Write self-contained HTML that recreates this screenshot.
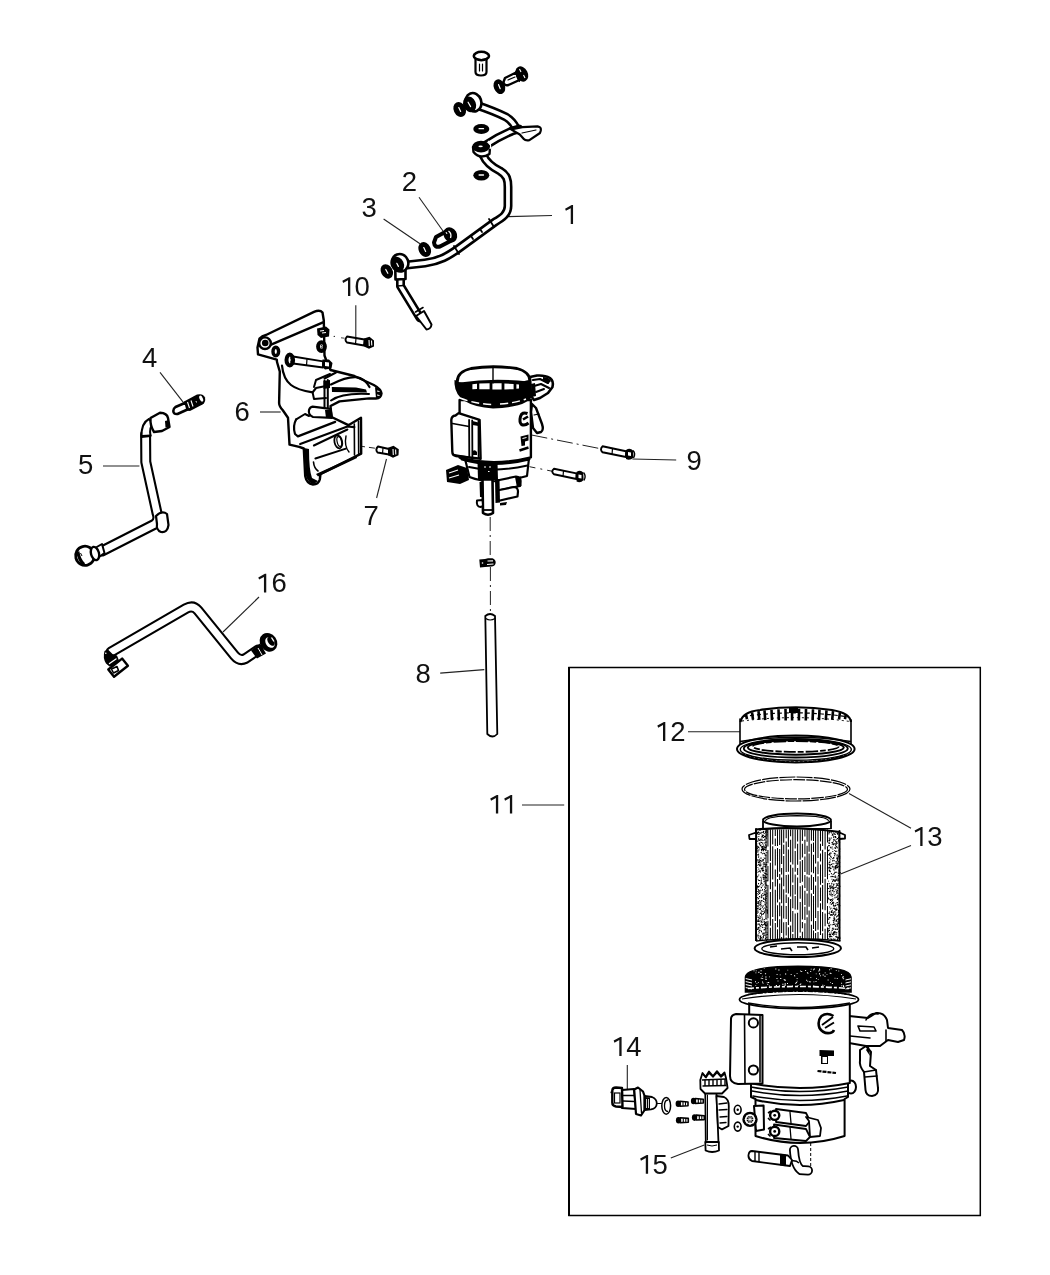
<!DOCTYPE html>
<html><head><meta charset="utf-8"><style>
html,body{margin:0;padding:0;background:#fff;width:1050px;height:1275px;overflow:hidden}
svg{display:block;filter:grayscale(1)}
text{font-family:"Liberation Sans",sans-serif;font-size:27.5px;fill:#111}
.k{fill:none;stroke:#000;stroke-width:2;stroke-linejoin:round;stroke-linecap:round}
.kf{fill:#fff;stroke:#000;stroke-width:2;stroke-linejoin:round;stroke-linecap:round}
.k1{fill:none;stroke:#000;stroke-width:1.2;stroke-linejoin:round;stroke-linecap:round}
.k3{fill:none;stroke:#000;stroke-width:3;stroke-linejoin:round;stroke-linecap:round}
.tb{fill:none;stroke:#000;stroke-width:9;stroke-linejoin:round;stroke-linecap:round}
.tw{fill:none;stroke:#fff;stroke-width:3.8;stroke-linejoin:round;stroke-linecap:round}
.ld{fill:none;stroke:#222;stroke-width:1.1}
.dd{fill:none;stroke:#222;stroke-width:1;stroke-dasharray:14 4 2 4}
.bk{fill:#000}
</style></head><body>
<svg width="1050" height="1275" viewBox="0 0 1050 1275">
<rect x="0" y="0" width="1050" height="1275" fill="#fff"/>

<!-- ===== LABELS ===== -->
<g text-anchor="middle">
<text x="409.5" y="191.3">2</text>
<text x="369.2" y="217.3">3</text>
<text x="149.65" y="366.7">4</text>
<text x="85.7" y="474">5</text>
<text x="242.2" y="420.7">6</text>
<text x="371.1" y="524.8">7</text>
<text x="423.05" y="683.1">8</text>
<text x="694.15" y="469.6">9</text>
<text x="362.2" y="296.3">0</text>
<text x="678" y="740.9">2</text>
<text x="934.8" y="845.9">3</text>
<text x="634" y="1055.9">4</text>
<text x="660.15" y="1173.8">5</text>
<text x="279.25" y="592.4">6</text>
</g>
<path fill="#111" d="M573.05,205.10 L573.05,224.10 L570.75,224.10 L570.75,208.20 L565.90,210.80 L565.10,208.70 L571.70,205.10 Z M350.30,277.20 L350.30,295.90 L348.00,295.90 L348.00,280.30 L343.15,282.90 L342.35,280.80 L348.95,277.20 Z M498.20,795.00 L498.20,813.60 L495.90,813.60 L495.90,798.10 L491.05,800.70 L490.25,798.60 L496.85,795.00 Z M512.20,795.00 L512.20,813.60 L509.90,813.60 L509.90,798.10 L505.05,800.70 L504.25,798.60 L510.85,795.00 Z M665.30,722.00 L665.30,740.90 L663.00,740.90 L663.00,725.10 L658.15,727.70 L657.35,725.60 L663.95,722.00 Z M922.55,826.90 L922.55,845.90 L920.25,845.90 L920.25,830.00 L915.40,832.60 L914.60,830.50 L921.20,826.90 Z M621.60,1037.00 L621.60,1055.90 L619.30,1055.90 L619.30,1040.10 L614.45,1042.70 L613.65,1040.60 L620.25,1037.00 Z M648.10,1155.00 L648.10,1173.80 L645.80,1173.80 L645.80,1158.10 L640.95,1160.70 L640.15,1158.60 L646.75,1155.00 Z M266.25,573.80 L266.25,592.40 L263.95,592.40 L263.95,576.90 L259.10,579.50 L258.30,577.40 L264.90,573.80 Z"/>

<!-- ===== LEADERS ===== -->
<g class="ld">
<path d="M507,216.6 L552,215.5"/>
<path d="M419,197.3 L443,231"/>
<path d="M383.6,219 L420,243.8"/>
<path d="M160,372.4 L183.5,402.7"/>
<path d="M103,466 L139.4,466"/>
<path d="M260,412 L280.7,412"/>
<path d="M386.5,459 L376.6,498"/>
<path d="M440.2,673.1 L484.3,669.6"/>
<path d="M632.4,459 L676.2,460"/>
<path d="M355.8,305.3 L355.8,337"/>
<path d="M522,805 L564.2,805"/>
<path d="M688,731.7 L740,731.7"/>
<path d="M911,828.3 L849,793.6"/>
<path d="M911,845.6 L840.6,873.9"/>
<path d="M627.3,1065 L627.3,1090.2"/>
<path d="M670.8,1158 L704.3,1145"/>
<path d="M259,597 L223,632"/>
</g>

<!-- ===== BOX 11 ===== -->
<path d="M569,667.5 L980.3,667.5 L980.3,1215.5 L569,1215.5 Z" fill="none" stroke="#000" stroke-width="1.5"/>
<path d="M569,667 L569,1216" stroke="#000" stroke-width="2"/>

<!-- PARTS_START -->
<!-- ===== PART 1 (upper tube) ===== -->
<g id="p1">
<!-- top bolt -->
<path class="kf" d="M475.5,59 L475.5,72 Q475.5,75.5 481,75.5 Q486.5,75.5 486.5,72 L486.5,59 Z" style="stroke-width:2.2"/>
<path class="k1" d="M479.5,64 L479.5,71 M482.5,64 L482.5,71"/>
<ellipse cx="481.4" cy="56" rx="7.6" ry="4.2" fill="#fff" stroke="#000" stroke-width="2.6"/>
<path class="k1" d="M474.5,57.5 Q481,61.5 488.3,57.5"/>
<!-- angled bolt -->
<path class="kf" d="M505,78 L516,72.5 L519.5,80 L508.5,85 Q504,86 503.5,82 Z" style="stroke-width:2.4"/>
<path class="k1" d="M508,80 L515,77"/>
<ellipse cx="521.8" cy="74" rx="6" ry="8" transform="rotate(-28 521.8 74)" fill="#000"/>
<path d="M519.5,69 L521,72 M523.5,75 L525,78" stroke="#fff" stroke-width="1.1"/>
<path d="M516,71 Q517,80 520,81.5" fill="none" stroke="#000" stroke-width="1.5"/>
<!-- washer near angled bolt -->
<ellipse cx="499.4" cy="86.7" rx="5.6" ry="7.6" transform="rotate(-22 499.4 86.7)" fill="#000"/>
<path d="M498.58,84.66 L500.22,88.74" stroke="#fff" stroke-width="1.2" stroke-linecap="round"/>
<!-- tube A from banjo1 -->
<path class="tb" d="M476,105 C485,108 498,113 506,117 C511,120 514,124 516,128"/>
<path class="tw" d="M476,105 C485,108 498,113 506,117 C511,120 514,124 516,128"/>
<!-- tube B to banjo2 -->
<path class="tb" d="M486,145 C495,139 505,134 512,131 L519,129"/>
<path class="tw" d="M486,145 C495,139 505,134 512,131 L519,129"/>
<!-- tab -->
<path class="kf" d="M511,129.4 L522.4,127.2 L537.6,126.3 Q541.5,127 540.8,130.5 L540,133 L529.4,140.2 Q525.5,141 523.8,139 L519.8,134.5 Z" style="stroke-width:2.2"/>
<path class="k1" d="M522,133 L536,130"/>
<!-- tube C down from banjo2 -->
<path class="tb" d="M483,155 C486,162 492,167 500,171 C507,175 508,180 508,187 L508,206 C508,214 502,218 495,222 L458,249 C448,256 440,261 425,263 L407,265"/>
<path class="tw" d="M483,155 C486,162 492,167 500,171 C507,175 508,180 508,187 L508,206 C508,214 502,218 495,222 L458,249 C448,256 440,261 425,263 L407,265"/>
<!-- band markers on tube -->
<path class="k" d="M489,219 L494,227 M454,246 L459,254 M471,236 L473,239 M480,229 L482,232" style="stroke-width:1.8"/>
<!-- washers near banjo1 -->
<ellipse cx="459.7" cy="109.5" rx="6.0" ry="7.8" transform="rotate(-25 459.7 109.5)" fill="#000"/>
<path d="M458.77,107.51 L460.63,111.49" stroke="#fff" stroke-width="1.2" stroke-linecap="round"/>
<!-- banjo1 -->
<ellipse cx="473.5" cy="102.2" rx="7.8" ry="9.3" transform="rotate(-20 473.5 102.2)" fill="#fff" stroke="#000" stroke-width="2.6"/>
<ellipse cx="469.6" cy="104.3" rx="6.3" ry="8.1" transform="rotate(-22 469.6 104.3)" fill="#000"/>
<path d="M468.1,102.2 L470.6,106.6" stroke="#fff" stroke-width="1.2" stroke-linecap="round"/>
<!-- washer mid -->
<ellipse cx="481.3" cy="129" rx="8" ry="5" fill="#000"/>
<path d="M479.1,128.7 L483.5,128.7" stroke="#fff" stroke-width="1.3" stroke-linecap="round"/>
<!-- banjo2 -->
<path class="kf" d="M473,147 L473.5,152 Q480,160 489.5,154 L490,147 Z" style="stroke-width:2.4"/>
<ellipse cx="481" cy="146.6" rx="8.8" ry="5.8" fill="#000"/>
<ellipse cx="480.6" cy="146.3" rx="2.2" ry="0.9" fill="#fff"/>
<path d="M488,141 Q492,144 490,149" fill="none" stroke="#fff" stroke-width="1.2"/>
<!-- washer bottom -->
<ellipse cx="481.3" cy="175.3" rx="8" ry="5.2" fill="#000"/>
<path d="M479.1,175.0 L483.5,175.0" stroke="#fff" stroke-width="1.3" stroke-linecap="round"/>
<!-- bolt 2 -->
<path class="kf" d="M436,237 L447,231 L451.5,240.5 L440,246.5 Q434.5,248 434,242.5 Z" style="stroke-width:4"/>
<path class="k1" d="M439,241 L446,237.5" style="stroke:#fff;stroke-width:1.6"/>
<ellipse cx="450.3" cy="234.8" rx="6.6" ry="7.9" transform="rotate(-30 450.3 234.8)" fill="#000"/>
<path d="M448.5,231 Q452,233.5 450.5,238" fill="none" stroke="#fff" stroke-width="1.3"/>
<path d="M446,232 L447,234" stroke="#fff" stroke-width="1"/>
<!-- washer 3 -->
<ellipse cx="424.7" cy="249.5" rx="6.0" ry="7.8" transform="rotate(-25 424.7 249.5)" fill="#000"/>
<path d="M423.77,247.51 L425.63,251.49" stroke="#fff" stroke-width="1.2" stroke-linecap="round"/>
<!-- washer left of banjo3 -->
<ellipse cx="386.8" cy="271.4" rx="5.8" ry="7.6" transform="rotate(-28 386.8 271.4)" fill="#000"/>
<path d="M385.77,269.46 L387.83,273.34" stroke="#fff" stroke-width="1.2" stroke-linecap="round"/>
<!-- lower tube from banjo3 -->
<path class="tb" d="M400.5,272 L400.5,286 L420,318"/>
<path class="tw" d="M400.5,272 L400.5,286 L420,318"/>
<path class="kf" d="M416,316 L424,311 L431.5,324.5 Q431,329 426.5,329.5 L416,316" style="stroke-width:2"/>
<path class="k" d="M397,286 L404,285.5" style="stroke-width:1.6"/>
<path class="k" d="M415.5,312 L423,307.5" style="stroke-width:1.6"/>
<!-- banjo3 -->
<path class="kf" d="M395.3,270 L405.5,270 L405.5,279 L395.5,279.5 Z" style="stroke-width:2.6"/>
<ellipse cx="400" cy="262.8" rx="8.3" ry="8.8" transform="rotate(-20 400 262.8)" fill="#fff" stroke="#000" stroke-width="2.6"/>
<ellipse cx="397.6" cy="264.3" rx="6.2" ry="7.9" transform="rotate(-25 397.6 264.3)" fill="#000"/>
<path d="M396.8,263.3 L398.4,266.4" stroke="#fff" stroke-width="1.2" stroke-linecap="round"/>
</g>
<!-- ===== PART 6 bracket ===== -->
<g id="p6">
<path class="kf" d="M257.5,347.5 L259.5,338.5 Q262,336 266,335 L314,311.8 Q320,309.5 322.5,312.5 L323.8,320.5 L324.5,355.5 L327,362.5 L330.5,370 L354.4,376 L373.8,385 Q381,389 381.5,393.5 Q381,398.5 376,398.5 L369.3,398.4 L339.5,401.4 L330.5,406 L331.5,417 L348.4,425.2 L361,417.8 L361.2,453.6 L320.5,474 L319.8,479.5 Q318.5,484.5 313,484.5 Q306.5,483.5 305.2,476 L303.8,448.5 L299.2,446.9 L289.5,444.6 L288,417.8 L282.8,410.3 Q279.1,406 279.1,402.9 L279.8,371.6 L277,362 L276.8,359.6 L258,354.4 Z" style="stroke-width:2.4"/>
<!-- cylinder -->
<path class="k" d="M270.5,344.8 L323,322.4" style="stroke-width:2.4"/>
<circle cx="265" cy="343.2" r="5.8" fill="#fff" stroke="#000" stroke-width="2.4"/>
<circle cx="265.2" cy="343" r="3.3" fill="#000"/>
<!-- neck curves -->
<path class="k" d="M282,365.6 C283,376 286,381 291,385 C296,389 304,391 312.6,392.4 L316,388 L326,386" style="stroke-width:2.2"/>
<path class="k" d="M312.6,392.4 L314,399 L326,398" style="stroke-width:2"/>
<path class="k" d="M314,387 L316,380 L330,374" style="stroke-width:2"/>
<path class="k" d="M331,384.5 C340,380 349,376.8 356,377.2 C362,378 366.5,381.5 369.5,387" style="stroke-width:2.2"/>
<path class="k" d="M331,400.5 C338,395.5 350,393 369,394" style="stroke-width:2"/>
<path class="k" d="M324.5,378.5 L336,372.5" style="stroke-width:2"/>
<path d="M331.8,387 L356,387.5 L366,389.5 L367,392.5 L332,392 Z" fill="#000"/>
<path class="k" d="M324.5,380.5 L324.5,407.4 M327.8,380 L327.8,407.4" style="stroke-width:2"/>
<path d="M323.5,381 L330,380 L330,388 L323.5,389 Z" fill="#000"/>
<!-- block -->
<path class="kf" d="M312.6,406.6 L330.5,408.8 L332,417.8 L313,417 Q308,415 309,410 Q310,407 312.6,406.6 Z" style="stroke-width:2.2"/>
<path d="M325,410 L331,409.5 L332,417.5 L326,418 Z" fill="#000"/>
<!-- pocket and lower box -->
<path class="k" d="M296.2,419.3 Q292.5,426 295,434 L297.9,436.4 L335.2,421.9" style="stroke-width:2.2"/>
<path class="k" d="M296.2,419.3 L305,414 L309,416" style="stroke-width:2"/>
<path class="k" d="M300.2,444 L347.4,426.5 L354.3,427.2" style="stroke-width:2.2"/>
<path class="k" d="M313.9,445.5 L347.4,429.5 M315.4,458.5 L345.9,448.6" style="stroke-width:2"/>
<path class="k" d="M354.3,424 L354.5,455 M358.5,421 L358.7,454" style="stroke-width:1.6"/>
<path d="M304,448 L306,476 Q308,483 314,484 L318,481 L312,478 Q309,470 309,449 Z" fill="#000"/>
<path class="k" d="M313.5,462 Q314,468 318,471" style="stroke-width:1.6"/>
<path d="M316,474 L356.6,455.4 L357,458 L318,476.5 Z" fill="#000"/>
<ellipse cx="338.3" cy="441.8" rx="3.8" ry="6.6" transform="rotate(-12 338.3 441.8)" class="k" style="stroke-width:1.8"/>
<ellipse cx="339.3" cy="441.5" rx="2.2" ry="5" transform="rotate(-12 339.3 441.5)" class="k" style="stroke-width:1.2"/>
<path class="k" d="M346,436 Q344,446 349,452" style="stroke-width:1.4"/>
<!-- nuts -->
<path d="M317,328.5 L326,326.5 L329.5,329.5 L329,336.5 L321,338 L317.5,335 Z" fill="#000"/>
<path d="M320,331 L324,330.5 M322,333 L326,332.5" stroke="#fff" stroke-width="1.2"/>
<ellipse cx="321.5" cy="346.6" rx="3.4" ry="4.4" fill="#fff" stroke="#000" stroke-width="4"/>
<path d="M321,344.5 Q323,346.5 321.5,348.5" fill="none" stroke="#000" stroke-width="0.9"/>
<ellipse cx="275.8" cy="351.5" rx="2.8" ry="4.2" fill="#fff" stroke="#000" stroke-width="3.4"/>
<!-- horizontal bolt through -->
<path class="kf" d="M293,356.5 L323,361.3 L323,367.5 L293,363.5 Z" style="stroke-width:1.8"/>
<path class="k1" d="M307,359 L306.5,365.5"/>
<path d="M322.5,359.5 L329,359.5 L332.5,363 L331.5,368.5 L325,369.5 L322,366.5 Z" fill="#000"/>
<path d="M325,362 L329,362.5 L329,366.5 L325,366 Z" fill="#fff"/>
<ellipse cx="289.8" cy="360" rx="3.3" ry="5.4" fill="#fff" stroke="#000" stroke-width="4"/>
<path d="M290.5,357.5 Q292,360 290.5,362.5" fill="none" stroke="#000" stroke-width="1"/>
<!-- arm end -->
<path d="M375,387 Q381,389 381.5,394 Q381,398.5 376,398.5 Z" fill="#000"/>
<path d="M377,391 L379.5,391.5 M377,395 L379.5,395.5" stroke="#fff" stroke-width="1"/>
</g>
<!-- bolt 10 -->
<g id="b10">
<circle cx="334.3" cy="336.4" r="0.7" fill="#222"/>
<path d="M341,337.8 L344.5,338.2" stroke="#444" stroke-width="1"/>
<path class="kf" d="M347,336.5 L364.5,339.5 L364,345.5 L347,342.5 Q344,340 347,336.5 Z" style="stroke-width:1.9"/>
<path class="k1" d="M356,338.2 L355.5,344"/>
<path d="M364,338.5 L369.5,336.8 L374,340.5 L374,346.5 L369,348.8 L364,346.5 Z" fill="#000"/>
<path d="M369,340 L369.3,346 M371.5,340.5 L371.8,345.5" stroke="#fff" stroke-width="1.1"/>
</g>
<!-- bolt 7 -->
<g id="b7">
<path class="dd" d="M362,446.4 L377,448.5" style="stroke-dasharray:3 4 6 3"/>
<path class="kf" d="M378,446.5 L389,449 L389,454.5 L377.5,452.5 Q375,449.5 378,446.5 Z" style="stroke-width:1.9"/>
<path class="k1" d="M383,448 L382.5,453.5"/>
<path d="M388,447.8 L393.5,445.8 L398.8,449.3 L398.5,455.3 L393,457.8 L388,455.3 Z" fill="#000"/>
<path d="M393,449 L393.3,455 M395.6,449.5 L395.8,454.5" stroke="#fff" stroke-width="1.1"/>
</g>
<!-- ===== PART 4 fitting ===== -->
<g id="p4">
<path class="kf" d="M175.5,407 L186,402.5 L188.5,409 L177.5,414 Q173.5,414.5 173.3,411 Q173.3,408.5 175.5,407 Z" style="stroke-width:2.6"/>
<path d="M184,401.5 L197,394.5 Q203,393 205,397.5 Q206,402 202.5,404.5 L190,411 L186.5,410.5 Z" fill="#000"/>
<path d="M187.5,402 L189.5,408 M191,400.5 L193,406.5" stroke="#fff" stroke-width="1.1"/>
<ellipse cx="201.2" cy="398.6" rx="1.6" ry="3.2" transform="rotate(-25 201.2 398.6)" fill="#fff"/>
<path d="M196,401 L196.5,402.5" stroke="#fff" stroke-width="0.9"/>
</g>
<!-- ===== PART 5 tube ===== -->
<g id="p5">
<path class="tb" d="M145.6,434 L145.8,462 L157,513 Q160,521 154,524.5 L102,551" style="stroke-width:11"/>
<path class="tw" d="M145.6,434 L145.8,462 L157,513 Q160,521 154,524.5 L102,551" style="stroke-width:6.8"/>
<path class="kf" d="M156,516 Q162,510 167,514 L168.5,525 Q167.5,533 161,532 Q156,530 157,524 Z" style="stroke-width:2.2"/>
<!-- elbow top -->
<path class="kf" d="M141.5,437 Q141,423 149,419 L153,424 Q149,427 150.5,436 Z" style="stroke-width:2"/>
<path class="kf" d="M150.5,418 L160,412.8 Q167,413 168,418 L169.5,427 L162,431 L154,432 Q150,426 150.5,418 Z" style="stroke-width:2.4"/>
<path d="M165,421 L169,420 L169.5,426.5 L165.5,427.5 Z" fill="#000"/>
<path class="k" d="M142,436 L150.5,435.5"/>
<!-- nut -->
<path class="kf" d="M95,548 L102,544 L104.5,553 L99,557 Z" style="stroke-width:2"/>
<ellipse cx="85" cy="555.8" rx="9.4" ry="9.6" transform="rotate(-15 85 555.8)" fill="#fff" stroke="#000" stroke-width="2.8"/>
<ellipse cx="95" cy="553.5" rx="4" ry="6.8" transform="rotate(-15 95 553.5)" fill="#fff" stroke="#000" stroke-width="2.4"/>
<path d="M77.8,551.5 Q79,560 84,564.5" fill="none" stroke="#000" stroke-width="3.2"/>
<path d="M80.5,553 L82,556" stroke="#000" stroke-width="1"/>
</g>
<!-- ===== PART 16 tube ===== -->
<g id="p16">
<path class="tb" d="M111,652 L186,608.5 Q193,604.5 198,610.5 L234.5,655.5 Q239.5,661.5 245.5,658.5 L258,650" style="stroke-width:11"/>
<path class="tw" d="M111,652 L186,608.5 Q193,604.5 198,610.5 L234.5,655.5 Q239.5,661.5 245.5,658.5 L258,650" style="stroke-width:6.8"/>
<path d="M104.5,651 Q102.5,658 106,663.5 L109.5,666.5 L114,666 L119,660.5 L117,655.5 L112.5,654 L108,649.5 Z" fill="#000"/>
<path d="M109.5,663.5 L116,659" stroke="#fff" stroke-width="1.4" stroke-linecap="round"/>
<circle cx="105.8" cy="653.3" r="0.8" fill="#fff"/>
<path class="kf" d="M108.3,669.5 L122.1,658.6 L127.9,665.7 L114,676.7 Z" style="stroke-width:2.4"/>
<path class="kf" d="M111.5,669 L117,666.5 L118.5,670.5 L113.5,673 Z" style="stroke-width:1.6"/>
<path d="M251,650.5 L260,643.5 L266,653.5 L257,658.5 Z" fill="#000"/>
<path d="M258,648 Q260.5,652 262,655" stroke="#fff" stroke-width="1" fill="none"/>
<ellipse cx="268.5" cy="642.3" rx="8.4" ry="9.8" transform="rotate(-35 268.5 642.3)" fill="#000"/>
<ellipse cx="270" cy="642.5" rx="4.2" ry="5.8" transform="rotate(-35 270 642.5)" fill="#fff"/>
<ellipse cx="271" cy="641.3" rx="3" ry="5" transform="rotate(-35 271 641.3)" fill="#000"/>
<path d="M271.5,637.5 L274,641.5" stroke="#fff" stroke-width="1.4"/>
</g>
<!-- ===== Central housing ===== -->
<g id="hous">
<!-- dash-dot lines -->
<path class="dd" d="M531.5,435 L600,448.6" style="stroke-dasharray:16 4 2 4"/>
<path class="dd" d="M529.5,466.7 L553,471.4" style="stroke-dasharray:6 5 2 5"/>
<path class="dd" d="M490.2,517 L490.2,558" style="stroke-dasharray:14 4 2 4"/>
<path class="dd" d="M490.4,567 L490.4,612" style="stroke-dasharray:14 4 2 4"/>
<!-- lower cylinder -->
<path class="kf" d="M465.3,460 L469.5,477 Q492,486 527,476 L528.8,460 Z" style="stroke-width:2.2"/>
<path class="k" d="M469,467 Q493,473 527.5,465.5" style="stroke-width:2"/>
<!-- body -->
<path class="kf" d="M459.6,400 L459.6,457.5 Q493,467 530.9,457.3 L530.9,400 Z" style="stroke-width:2.4"/>
<path d="M462,459 Q493,468 529,459" class="k" style="stroke-width:3"/>
<!-- top ring band (black) -->
<path d="M454.5,384 Q456,406 493,408.5 Q530,407 533,394 L532,380 Q493,392 454.5,380 Z" fill="#000"/>
<path d="M460,398 Q475,404 493,404.5" stroke="#fff" stroke-width="1.4" fill="none" stroke-dasharray="8 4"/>
<path d="M500,404 Q515,403 526,399" stroke="#fff" stroke-width="1.4" fill="none" stroke-dasharray="8 4"/>
<!-- top opening -->
<path d="M457.5,383 Q456,372 471,368.5 Q493,365 517,368.5 Q530,372 529.8,381 Q493,392 457.5,383 Z" fill="#fff" stroke="#000" stroke-width="2.8"/>
<path d="M460,382.5 Q493,377.5 528,381.5 L528,389 Q493,393 460,389.5 Z" fill="#000"/>
<path d="M472.4,384.3 L477,383.8 L477,389 L472.4,389.3 Z M479.3,383.6 L489.6,383.2 L489.6,389.3 L479.3,389.3 Z M492.4,383.2 L501.6,383.3 L501.6,389.4 L492.4,389.4 Z M504.4,383.5 L513.6,384 L513.6,389.3 L504.4,389.4 Z M516.4,384.3 L519,384.6 L519,388.5 L516.4,388.8 Z" fill="#fff"/>
<path class="k1" d="M493,366.5 L493,383" style="stroke-width:1.4"/>
<!-- left sensor box -->
<path class="kf" d="M451.3,420 Q451.5,416 455.5,415.5 L458.6,413.1 L479.6,419.9 L480.6,458.7 L456,456 Q452.3,455.5 452.3,451.5 Z" style="stroke-width:2.4"/>
<path class="k" d="M452.5,423.5 L469,426.5 M453,454.5 L469,457.2" style="stroke-width:1.6"/>
<path class="k" d="M469.1,420 L469.3,457.5 M472.2,420.5 L472.4,457.8 M478.5,421 L478.6,458" style="stroke-width:1.8"/>
<path d="M472.5,421 L478.3,422.5 L478.5,426 L472.5,425 Z" fill="#000"/>
<path d="M472.8,451 Q475,449 477,452 L477,455 L473,455 Z" fill="#000"/>
<!-- logo marks -->
<path d="M527.5,413.5 Q522,411.5 520.5,416.5 Q519,422 521.5,424.5 Q525,426 528.5,423" fill="none" stroke="#000" stroke-width="3"/>
<path d="M523,419.5 L528,416.5" stroke="#000" stroke-width="2.6"/>
<path d="M520.5,436.5 L528.5,434.5 L528.5,440.5 L525,441.5 L525,445.5 L521.5,446 Z" fill="#000"/>
<path d="M522.5,438.5 L526.5,437.5" stroke="#fff" stroke-width="1"/>
<path d="M519.5,450.5 L528.5,447.5" stroke="#000" stroke-width="2.4"/>
<!-- top right connector -->
<path class="kf" d="M530,377 L537,375.5 Q545,375 550,378 Q554,381 552.5,387 L548,393 L540,398 L534,400 L531,396 Z" style="stroke-width:2.6"/>
<path class="k" d="M533,380 L540,379 L548,383 M534,386 L541,384 L549,388 M536,392 L544,389" style="stroke-width:2"/>
<path d="M543,377 Q549,377 551,381 L548,384 L543,381 Z" fill="#000"/>
<path d="M531,384 L535,383 L536,396 L532,397 Z" fill="#000"/>
<!-- right bracket piece -->
<path class="kf" d="M532,404 L536,408 L542,424 Q544,430 541,432 L537,433 L533,428 L531,412 Z" style="stroke-width:2.4"/>
<path class="k1" d="M534,415 L539,414"/>
<!-- bottom left connector -->
<path d="M446,470 L458,465 L467,468 L469,480 L460,484 L447,482 Z" fill="#000"/>
<path d="M449,473 L458,470 M449,478 L459,475" stroke="#fff" stroke-width="1.2"/>
<!-- bottom center block -->
<path d="M477.5,462 L497.5,462.5 L498,480 L478,480 Z" fill="#000"/>
<path d="M484,467 L486,467 M489,467 L491,467 M488,471.5 L489.5,471.5" stroke="#fff" stroke-width="1"/>
<path class="kf" d="M482.5,479.5 L492.5,479.5 L493,513 Q488,516.5 483,513 Z" style="stroke-width:2.6"/>
<path d="M483,510 L492.5,510" stroke="#000" stroke-width="1.8"/>
<path d="M479.5,482 L483,482 L483.5,497 L480,497 Z" fill="#000"/>
<path class="kf" d="M477,500.5 Q476,506.5 480.5,507 L483,506 L482.5,500 Z" style="stroke-width:2"/>
<!-- bottom right block: two cylinders -->
<path class="kf" d="M497,480.5 L516,476.5 Q520.5,477 520.5,481 L520,486 L498,490.5 Z" style="stroke-width:2.2"/>
<path class="kf" d="M497,490.5 L514,487 Q518,487.5 518,491.5 L517.5,496.5 L498,501 Z" style="stroke-width:2.2"/>
<path d="M495,479 L499.5,479 L500,502.5 L495.5,503 Z" fill="#000"/>
<path d="M515,477 L521,476.5 L521.5,486 L517,487.5 Z" fill="#000"/>
<path d="M500,503 L507,502 L506,505 L500,505.5 Z" fill="#000"/>
</g>
<!-- ===== bolts 9 ===== -->
<g id="b9">
<path class="kf" d="M602.5,446.3 L626,451.2 L626,457 L602.5,452.2 Q599.5,449.5 602.5,446.3 Z" style="stroke-width:1.9"/>
<path class="k1" d="M612.5,448.5 L612,454.5"/>
<path d="M626,450 Q630,447.5 633,450.5 L633.5,457.5 Q630,461 626,459 Z" fill="#000"/>
<path d="M628,452 L631,452.5 L631,456 L628,455.5 Z" fill="#fff"/>
<path d="M633,450.5 Q636,453.5 633.5,458" fill="none" stroke="#000" stroke-width="1.4"/>
<path class="kf" d="M554,468.7 L576.4,473.4 L576.4,479 L554,474.3 Q550.5,471.5 554,468.7 Z" style="stroke-width:1.9"/>
<path class="k1" d="M563.5,470.8 L563,476.5"/>
<path d="M576.4,472 Q580.5,469.5 583.2,472.5 L583.6,480 Q580.5,483.5 576.6,481.5 Z" fill="#000"/>
<path d="M578.5,474.5 L581.5,475 L581.5,478.5 L578.5,478 Z" fill="#fff"/>
<path d="M583.5,472.5 Q586.5,476 584,480.5" fill="none" stroke="#000" stroke-width="1.4"/>
</g>
<!-- ===== small part on axis ===== -->
<path d="M479.3,559.5 L485,559 L488,558.2 L492.5,558.3 Q495.7,559.5 495.7,562.5 Q495.5,566 492,566.5 L485,567 L480,567.6 Z" fill="#000"/>
<path d="M487.5,561 L493,560.8 M487,564.5 L493.5,564" stroke="#fff" stroke-width="1.2"/>
<circle cx="482.5" cy="563" r="0.8" fill="#fff"/>
<!-- ===== PART 8 pipe ===== -->
<path class="kf" d="M485.3,616 Q490,612 495,616 L497.3,734 Q492.5,739 487.3,734 Z" style="stroke-width:1.8"/>
<path class="k1" d="M485.8,618.5 Q490,621.5 495,618.5"/>
<!-- ===== CAP 12 ===== -->
<g id="p12">
<path class="kf" d="M740,721 L740,743 L851,743 L851,721 Z" style="stroke:none"/>
<path class="k" d="M740,719 L740,744 M851,720 L851,744" style="stroke-width:1.6"/>
<!-- knurled band -->
<path d="M740.5,722 Q742,712 760,710 Q796,704.5 832,710 Q850,713 851,722 Q796,716 740.5,722 Z" fill="#fff" stroke="none"/>
<path d="M740.5,722 Q742,712 760,710 Q796,704.5 832,710 Q850,713 851,722" fill="none" stroke="#000" stroke-width="2.2"/>
<path d="M745.9,714.1 L747.0,719.1 M752.0,712.4 L753.0,719.5 M758.5,711.2 L759.3,719.8 M764.5,710.4 L765.2,720.1 M771.5,709.7 L772.0,720.2 M778.5,709.2 L778.9,720.4 M785.5,708.9 L785.7,720.5 M792.0,708.7 L792.1,720.5 M799.0,708.7 L798.9,720.5 M806.0,708.9 L805.8,720.5 M813.0,709.2 L812.6,720.4 M819.5,709.6 L819.0,720.3 M826.5,710.3 L825.8,720.1 M833.0,711.1 L832.2,719.9 M840.0,712.4 L839.0,719.5 M846.0,714.1 L844.9,719.1" fill="none" stroke="#000" stroke-width="2.6"/>
<path d="M743,716.5 Q796,709 849,717" fill="none" stroke="#000" stroke-width="1.2" stroke-dasharray="4 3"/>
<path d="M742,721 Q796,714 850,721.5" fill="none" stroke="#000" stroke-width="1" stroke-dasharray="2 3"/>
<path d="M789,707 L798,707 L798,713 L789,713 Z" fill="#000"/>
<!-- flange -->
<ellipse cx="795.8" cy="749" rx="58.8" ry="13.4" fill="#fff" stroke="#000" stroke-width="2"/>
<ellipse cx="795.8" cy="749.5" rx="55.5" ry="10.8" fill="none" stroke="#000" stroke-width="1.4"/>
<ellipse cx="795.8" cy="748.5" rx="52" ry="9" fill="none" stroke="#000" stroke-width="1.8"/>
<ellipse cx="795.8" cy="747.5" rx="48" ry="7.2" fill="none" stroke="#000" stroke-width="2"/>
<ellipse cx="795.8" cy="746.5" rx="43" ry="5.4" fill="none" stroke="#000" stroke-width="1.8" stroke-dasharray="12 2 6 2"/>
<path d="M742,754 Q796,770 850,754" fill="none" stroke="#000" stroke-width="1.4" stroke-dasharray="3 1.5"/>
<path d="M740,741.5 Q796,733 851,741.5" fill="none" stroke="#000" stroke-width="1.6"/>
</g>
<!-- ===== O-RING 13 ===== -->
<ellipse cx="796" cy="789" rx="54" ry="12" fill="none" stroke="#000" stroke-width="1.2" stroke-dasharray="16 1.2"/>
<ellipse cx="796" cy="789.3" rx="51.5" ry="9.6" fill="none" stroke="#000" stroke-width="1.2" stroke-dasharray="12 1.2"/>
<!-- ===== FILTER ELEMENT 13 ===== -->
<defs>
<pattern id="pleat" x="0" y="0" width="4.6" height="37" patternUnits="userSpaceOnUse">
<rect x="0" y="0" width="4.6" height="37" fill="#fff"/>
<path d="M0.8,0 L0.8,37" stroke="#000" stroke-width="1.3"/>
<path d="M3.2,3 L3.2,15 M3.2,20 L3.2,35" stroke="#000" stroke-width="1.1"/>
</pattern>
<pattern id="pleat2" x="2" y="11" width="9.2" height="29" patternUnits="userSpaceOnUse">
<path d="M2,0 L2,9 M6.5,14 L6.5,26" stroke="#000" stroke-width="1.2"/>
</pattern>
<pattern id="stip" x="0" y="0" width="4" height="4" patternUnits="userSpaceOnUse">
<rect x="0" y="0" width="4" height="4" fill="#fff"/>
<rect x="0" y="0" width="2" height="1.5" fill="#000"/>
<rect x="2" y="2" width="2" height="1.5" fill="#000"/>
<rect x="0.5" y="2.5" width="1" height="1" fill="#000"/>
</pattern>
<pattern id="stip2" x="0" y="0" width="5" height="5" patternUnits="userSpaceOnUse">
<rect x="0" y="0" width="5" height="5" fill="#000"/>
<rect x="1" y="1" width="1.2" height="1.2" fill="#fff"/>
<rect x="3.5" y="3" width="1.2" height="1.2" fill="#fff"/>
</pattern>
</defs>
<g id="p13">
<path d="M763,821 L763,829 L831,829 L831,821" fill="#fff" stroke="#000" stroke-width="1.8"/>
<ellipse cx="797" cy="820" rx="34" ry="6.5" fill="#fff" stroke="#000" stroke-width="2"/>
<path d="M765.5,821 Q766,816 797,815.6 Q828,816 828.5,821" fill="none" stroke="#000" stroke-width="1.1"/>
<rect x="756" y="829" width="83.5" height="112" fill="#fff"/>
<path d="M766.0,829.5V850.6 M766.0,854.2V888.0 M766.0,890.2V918.4 M766.0,921.7V940.0 M767.9,829.5V846.6 M767.9,850.0V863.3 M767.9,866.1V881.3 M767.9,884.9V918.3 M767.9,920.8V940.0 M770.4,829.5V860.9 M770.4,862.8V889.2 M770.4,892.1V925.8 M770.4,927.8V940.0 M772.7,829.5V844.5 M772.7,846.2V879.4 M772.7,882.1V917.0 M772.7,918.9V940.0 M775.3,829.5V836.0 M775.3,838.4V845.9 M775.3,849.3V865.6 M775.3,869.5V886.4 M775.3,889.8V921.0 M775.3,923.1V940.0 M777.5,829.5V845.9 M777.5,848.1V876.9 M777.5,878.9V902.4 M777.5,905.3V927.3 M777.5,929.2V940.0 M779.7,829.5V845.1 M779.7,848.9V871.7 M779.7,873.9V880.1 M779.7,883.5V899.6 M779.7,902.3V916.2 M779.7,919.3V940.0 M781.6,829.5V864.1 M781.6,867.9V874.5 M781.6,877.4V903.3 M781.6,905.8V933.0 M781.6,936.9V940.0 M783.7,829.5V842.8 M783.7,844.7V853.9 M783.7,855.9V886.3 M783.7,889.2V918.5 M783.7,922.3V940.0 M786.2,829.5V838.2 M786.2,841.6V871.9 M786.2,875.1V892.8 M786.2,894.5V903.0 M786.2,906.0V919.1 M786.2,921.9V935.6 M786.2,937.5V940.0 M788.4,829.5V846.9 M788.4,849.6V871.7 M788.4,874.5V893.4 M788.4,897.3V925.1 M788.4,927.2V940.0 M790.6,829.5V836.3 M790.6,839.7V862.2 M790.6,864.7V896.6 M790.6,898.9V921.7 M790.6,925.5V940.0 M792.8,829.5V864.4 M792.8,867.8V882.6 M792.8,885.0V908.2 M792.8,911.0V932.1 M792.8,934.1V940.0 M795.2,829.5V848.5 M795.2,851.1V871.8 M795.2,874.6V894.4 M795.2,895.9V909.6 M795.2,913.5V940.0 M797.6,829.5V841.6 M797.6,843.8V864.8 M797.6,868.1V874.9 M797.6,877.5V909.8 M797.6,912.8V940.0 M800.2,829.5V859.8 M800.2,861.3V882.9 M800.2,886.3V898.7 M800.2,901.9V932.5 M800.2,936.0V940.0 M802.4,829.5V841.0 M802.4,843.8V857.6 M802.4,860.0V881.8 M802.4,885.3V919.6 M802.4,922.1V928.3 M802.4,931.7V940.0 M804.9,829.5V836.5 M804.9,839.8V854.1 M804.9,856.4V872.1 M804.9,874.9V888.0 M804.9,890.7V904.9 M804.9,906.7V920.0 M804.9,923.2V938.2 M807.1,829.5V841.7 M807.1,845.7V874.5 M807.1,876.4V890.9 M807.1,893.5V914.8 M807.1,917.3V938.4 M809.1,829.5V851.7 M809.1,853.6V875.1 M809.1,877.4V906.7 M809.1,910.4V940.0 M811.4,829.5V840.4 M811.4,843.7V872.2 M811.4,874.8V890.1 M811.4,893.5V921.3 M811.4,924.8V939.2 M813.5,829.5V841.0 M813.5,842.6V852.1 M813.5,854.8V873.3 M813.5,877.0V894.0 M813.5,895.9V928.9 M813.5,930.6V940.0 M815.6,829.5V863.5 M815.6,866.8V881.8 M815.6,885.4V918.1 M815.6,920.9V931.1 M815.6,932.9V940.0 M818.0,829.5V857.9 M818.0,861.4V874.3 M818.0,876.3V907.5 M818.0,911.1V929.7 M818.0,931.9V940.0 M820.5,829.5V841.4 M820.5,843.7V850.7 M820.5,853.6V861.4 M820.5,864.6V884.8 M820.5,887.4V900.9 M820.5,903.2V935.1 M820.5,938.9V940.0 M822.6,829.5V846.0 M822.6,849.7V883.1 M822.6,885.1V909.5 M822.6,911.9V931.2 M822.6,933.2V940.0 M825.1,829.5V849.5 M825.1,852.1V876.9 M825.1,878.7V910.2 M825.1,913.6V926.2 M825.1,928.7V940.0 M827.5,829.5V842.4 M827.5,846.3V879.3 M827.5,882.9V903.2 M827.5,905.9V923.7 M827.5,927.6V940.0" stroke="#000" stroke-width="1.05" fill="none"/>
<path d="M766.2,934.3h0.9v0.9h-0.9z M762.5,876.6h1.2v1h-1.2z M757.4,851.1h1v0.9h-1z M758.4,880.1h0.9v0.9h-0.9z M756.9,908.1h1v0.9h-1z M761.6,910.8h1v0.9h-1z M758.3,833.9h1v1.2h-1z M757.9,853.8h1.2v1h-1.2z M762.2,924.6h1.2v1h-1.2z M763.3,864.6h0.9v1h-0.9z M758.0,883.1h1v1.2h-1z M763.1,850.0h0.9v1.2h-0.9z M759.6,919.7h0.9v1.2h-0.9z M757.3,840.8h0.9v1.2h-0.9z M759.0,893.0h1.2v1h-1.2z M757.2,929.0h1.2v1h-1.2z M765.8,880.0h0.9v1h-0.9z M757.6,898.2h0.9v1.2h-0.9z M764.7,884.2h1v1.2h-1z M757.6,912.0h0.9v1h-0.9z M757.8,937.3h0.9v1.2h-0.9z M760.6,832.6h0.9v1.2h-0.9z M756.1,854.4h1.2v0.9h-1.2z M761.9,938.7h1.2v0.9h-1.2z M759.8,937.2h1v1h-1z M758.1,838.3h1v1.2h-1z M758.2,932.7h1v0.9h-1z M757.0,891.2h1.2v0.9h-1.2z M763.6,891.4h0.9v1h-0.9z M757.1,848.1h0.9v1h-0.9z M764.4,902.2h1v0.9h-1z M765.8,905.7h1v0.9h-1z M763.6,921.3h1.2v1.2h-1.2z M758.6,862.5h1v1h-1z M764.5,891.3h1.2v0.9h-1.2z M765.1,841.9h1.2v0.9h-1.2z M759.7,891.5h1v0.9h-1z M757.8,902.7h1v1.2h-1z M763.6,842.5h1.2v1h-1.2z M764.8,938.7h1v0.9h-1z M759.7,832.6h0.9v1.2h-0.9z M765.5,852.4h1.2v0.9h-1.2z M757.9,879.4h1v0.9h-1z M760.6,860.5h1.2v1.2h-1.2z M766.9,909.2h0.9v1.2h-0.9z M761.9,859.2h0.9v0.9h-0.9z M765.6,925.0h1v1h-1z M764.5,904.1h1.2v1h-1.2z M759.2,865.2h1v1h-1z M759.0,932.3h0.9v1h-0.9z M756.5,927.6h1.2v1h-1.2z M764.3,927.2h1.2v1h-1.2z M763.6,872.2h1v0.9h-1z M761.5,842.1h1v0.9h-1z M759.1,914.7h0.9v0.9h-0.9z M758.9,923.6h0.9v1.2h-0.9z M763.0,834.7h0.9v1h-0.9z M758.2,892.2h1.2v0.9h-1.2z M758.0,886.0h1.2v1.2h-1.2z M760.0,938.5h1.2v1.2h-1.2z M763.2,848.7h0.9v1.2h-0.9z M758.0,832.1h1.2v1.2h-1.2z M757.5,910.5h1v1.2h-1z M759.2,917.4h0.9v0.9h-0.9z M762.6,895.1h1v0.9h-1z M757.5,840.2h0.9v0.9h-0.9z M766.6,939.1h1.2v0.9h-1.2z M761.9,924.5h1v1.2h-1z M760.0,901.6h1.2v1.2h-1.2z M766.2,864.3h1.2v1.2h-1.2z M757.4,871.8h1v0.9h-1z M761.4,868.5h0.9v1.2h-0.9z M761.9,853.2h1v1h-1z M756.6,864.7h1v1h-1z M765.1,894.8h1v1h-1z M758.7,864.7h1.2v1h-1.2z M760.9,849.0h1v1.2h-1z M761.5,831.8h1.2v1.2h-1.2z M760.7,896.9h1v0.9h-1z M763.3,877.3h0.9v1h-0.9z M765.2,873.1h1v1h-1z M756.6,833.8h1v1h-1z M766.7,911.5h1.2v1.2h-1.2z M765.6,909.1h0.9v1.2h-0.9z M766.8,912.6h1.2v1h-1.2z M762.0,843.3h0.9v1h-0.9z M761.2,846.0h1.2v1h-1.2z M757.3,832.0h1.2v1.2h-1.2z M758.3,901.0h1v1h-1z M759.0,861.3h1v1.2h-1z M766.3,889.6h1v1.2h-1z M756.2,916.9h1.2v1.2h-1.2z M757.7,905.8h0.9v1.2h-0.9z M766.2,906.6h1v1h-1z M757.2,921.0h0.9v0.9h-0.9z M766.6,833.7h1v1.2h-1z M756.4,859.1h1.2v1.2h-1.2z M760.6,899.9h0.9v0.9h-0.9z M766.1,902.6h1.2v0.9h-1.2z M763.2,844.5h0.9v1h-0.9z M756.7,902.9h0.9v1h-0.9z M766.7,830.0h1v0.9h-1z M762.3,892.9h0.9v1.2h-0.9z M756.2,846.0h0.9v1h-0.9z M763.1,933.5h1.2v1h-1.2z M756.1,884.6h1v1h-1z M759.1,909.0h0.9v0.9h-0.9z M758.3,918.5h0.9v0.9h-0.9z M757.7,920.2h1.2v0.9h-1.2z M762.8,877.1h1.2v0.9h-1.2z M764.9,887.5h1.2v1.2h-1.2z M762.5,932.5h0.9v0.9h-0.9z M758.9,896.0h1.2v1.2h-1.2z M764.9,922.1h0.9v0.9h-0.9z M761.6,869.4h0.9v1.2h-0.9z M761.5,938.2h0.9v1.2h-0.9z M758.7,870.7h1v1h-1z M758.4,891.5h0.9v1h-0.9z M756.4,895.2h0.9v0.9h-0.9z M764.1,846.8h1.2v1h-1.2z M763.0,913.5h1v0.9h-1z M757.8,927.9h1v1.2h-1z M758.3,907.6h1.2v1h-1.2z M759.3,918.2h1v0.9h-1z M760.4,903.3h1v1.2h-1z M764.1,849.2h1.2v0.9h-1.2z M756.3,924.4h1v1.2h-1z M757.6,923.6h1.2v1.2h-1.2z M762.9,936.0h1v1.2h-1z M766.4,907.0h1v1h-1z M757.4,860.2h1.2v1.2h-1.2z M763.0,898.3h1.2v1.2h-1.2z M766.4,874.0h1.2v0.9h-1.2z M762.6,874.3h1v1.2h-1z M757.7,831.2h1v1h-1z M762.0,926.7h1v1h-1z M763.9,836.0h1v1.2h-1z M764.3,838.7h0.9v0.9h-0.9z M756.2,897.2h1v1h-1z M765.8,921.6h1.2v0.9h-1.2z M765.0,887.6h1v1h-1z M766.4,852.1h0.9v1.2h-0.9z M757.9,889.1h0.9v1h-0.9z M764.0,912.1h1.2v1h-1.2z M759.7,889.8h1.2v1h-1.2z M765.3,835.7h1v1h-1z M762.5,910.9h0.9v0.9h-0.9z M757.4,850.2h1v1h-1z M765.5,869.1h0.9v1.2h-0.9z M760.0,862.4h1.2v1h-1.2z M766.1,939.9h0.9v1.2h-0.9z M764.4,929.1h1.2v1.2h-1.2z M759.1,885.5h1.2v0.9h-1.2z M764.0,922.7h1v1.2h-1z M760.4,901.8h0.9v1h-0.9z M756.1,869.8h1.2v1h-1.2z M764.6,889.8h0.9v1.2h-0.9z M763.9,907.4h1v1.2h-1z M758.1,863.9h1v1.2h-1z M765.8,830.3h1v1h-1z M761.3,882.9h1.2v1h-1.2z M760.6,852.1h1.2v0.9h-1.2z M766.3,937.1h1v0.9h-1z M766.6,925.2h0.9v1h-0.9z M765.1,854.8h0.9v0.9h-0.9z M763.0,862.3h0.9v1h-0.9z M756.9,849.4h0.9v0.9h-0.9z M766.0,834.6h1.2v0.9h-1.2z M756.8,832.2h0.9v1h-0.9z M756.4,893.1h1.2v1h-1.2z M763.7,893.4h1.2v0.9h-1.2z M765.8,854.7h0.9v0.9h-0.9z M756.0,836.6h0.9v0.9h-0.9z M767.0,933.9h0.9v1.2h-0.9z M765.4,888.1h1v1h-1z M761.6,919.2h0.9v0.9h-0.9z M762.1,848.8h1v1.2h-1z M765.1,882.3h0.9v1.2h-0.9z M760.4,864.4h1.2v1.2h-1.2z M756.4,912.9h1.2v1.2h-1.2z M765.3,931.8h1.2v0.9h-1.2z M761.4,839.6h1v1.2h-1z M765.1,900.0h1.2v1.2h-1.2z M764.2,862.3h0.9v1h-0.9z M758.6,929.6h0.9v0.9h-0.9z M765.6,873.6h1.2v1h-1.2z M763.6,929.3h0.9v1.2h-0.9z M757.0,886.3h0.9v0.9h-0.9z M760.7,842.1h0.9v1h-0.9z M762.2,835.7h1v0.9h-1z M760.3,840.4h0.9v0.9h-0.9z M759.8,935.5h1.2v1.2h-1.2z M760.2,907.7h1.2v1h-1.2z M766.4,852.5h0.9v0.9h-0.9z M764.6,847.2h1v1.2h-1z M763.9,933.7h1v0.9h-1z M764.6,873.0h0.9v0.9h-0.9z M765.8,877.1h1.2v0.9h-1.2z M766.0,846.2h0.9v1.2h-0.9z M765.5,896.0h1v0.9h-1z M758.5,920.9h1.2v1h-1.2z M764.4,879.6h0.9v1h-0.9z M759.8,917.5h1.2v1h-1.2z M759.7,913.2h1v0.9h-1z M763.5,866.3h0.9v0.9h-0.9z M759.9,903.8h1v1.2h-1z M758.7,840.0h1.2v0.9h-1.2z M766.6,835.6h1v0.9h-1z M758.5,891.3h0.9v1h-0.9z M761.8,867.8h1v1.2h-1z M763.6,857.4h1v0.9h-1z M762.2,933.6h0.9v1.2h-0.9z M759.4,860.0h1v1.2h-1z M761.4,920.2h0.9v1.2h-0.9z M763.9,877.5h1.2v1h-1.2z M761.5,896.3h0.9v1.2h-0.9z M762.8,874.2h1v1.2h-1z M764.3,863.9h0.9v1h-0.9z M756.2,843.5h1.2v0.9h-1.2z M762.6,919.3h0.9v1h-0.9z M765.5,850.3h1v0.9h-1z M767.0,910.1h1v1h-1z M766.0,892.6h1.2v1h-1.2z M764.5,858.1h1v0.9h-1z M763.6,846.5h1v1h-1z M760.2,844.6h1.2v1.2h-1.2z M760.5,905.8h0.9v1h-0.9z M763.8,898.8h0.9v1.2h-0.9z M766.9,912.5h0.9v1.2h-0.9z M767.0,880.3h0.9v0.9h-0.9z M762.2,846.3h1.2v1.2h-1.2z M759.3,842.5h1.2v0.9h-1.2z M761.2,924.0h1v0.9h-1z M764.9,875.7h1v1.2h-1z M756.0,851.0h1v1h-1z M761.5,838.4h0.9v1h-0.9z M763.6,845.8h0.9v1h-0.9z M762.1,834.9h1.2v1.2h-1.2z M757.3,934.6h1.2v1.2h-1.2z M756.2,915.3h0.9v1.2h-0.9z M763.9,853.0h1.2v1h-1.2z M758.2,897.9h1v1h-1z M757.4,854.3h1.2v1h-1.2z M765.2,831.3h1v1h-1z M756.1,935.7h1.2v0.9h-1.2z M757.8,901.4h1.2v1.2h-1.2z M764.7,904.4h1.2v1.2h-1.2z M765.3,844.3h1v1h-1z M759.3,904.6h0.9v1h-0.9z M758.4,835.9h0.9v1.2h-0.9z M760.0,871.6h1v0.9h-1z M758.2,855.6h1v0.9h-1z M759.2,858.7h1v0.9h-1z M757.1,920.6h1v1h-1z M763.0,870.1h1.2v1.2h-1.2z M758.4,868.5h0.9v1.2h-0.9z M758.1,917.0h1v1h-1z M765.9,837.8h1.2v1h-1.2z M760.5,921.3h1.2v1.2h-1.2z M761.1,850.3h1.2v0.9h-1.2z M763.8,881.6h0.9v0.9h-0.9z M759.5,925.3h1v1h-1z M759.9,938.2h1.2v1h-1.2z M756.0,894.6h1.2v1h-1.2z M756.8,910.5h0.9v0.9h-0.9z M758.6,902.5h1.2v0.9h-1.2z M763.4,923.9h1v1h-1z M763.7,880.7h0.9v0.9h-0.9z M766.3,841.5h0.9v1h-0.9z M762.7,863.5h0.9v0.9h-0.9z M759.5,928.4h1v0.9h-1z M765.6,845.1h1v1.2h-1z M759.8,916.0h0.9v0.9h-0.9z M764.3,857.9h0.9v0.9h-0.9z M760.5,926.2h0.9v1h-0.9z M761.6,860.6h1.2v0.9h-1.2z M759.6,865.4h1v1h-1z M758.6,832.2h1v0.9h-1z M765.7,925.6h1v0.9h-1z M756.4,886.1h1.2v1h-1.2z M757.3,906.1h0.9v0.9h-0.9z M758.1,861.7h1.2v1h-1.2z M765.5,870.7h1.2v1.2h-1.2z M761.2,894.3h1v1h-1z M765.4,863.9h1.2v1h-1.2z M756.7,836.4h0.9v1h-0.9z M759.1,900.0h0.9v1.2h-0.9z M759.5,930.1h1v1h-1z M762.6,860.0h1v1.2h-1z M766.4,895.6h1.2v0.9h-1.2z M763.6,912.7h0.9v0.9h-0.9z M764.6,883.1h0.9v0.9h-0.9z M759.5,939.0h1.2v1.2h-1.2z M761.5,900.0h1v1.2h-1z M764.1,888.9h1v1.2h-1z M761.5,834.4h1.2v0.9h-1.2z M756.5,936.1h0.9v0.9h-0.9z M760.9,878.4h1.2v1h-1.2z M763.2,905.4h0.9v0.9h-0.9z M758.6,842.8h1v0.9h-1z M761.0,923.7h0.9v1.2h-0.9z M764.9,847.1h1.2v1h-1.2z M766.8,893.3h0.9v1h-0.9z M761.4,900.3h0.9v1.2h-0.9z M765.6,836.9h0.9v0.9h-0.9z M763.2,852.8h1.2v0.9h-1.2z M761.6,889.9h1v1.2h-1z M766.0,862.3h1v0.9h-1z M757.8,861.9h0.9v1h-0.9z M763.0,832.3h0.9v0.9h-0.9z M764.9,923.7h1v1h-1z M764.1,919.1h1.2v1h-1.2z M762.8,912.9h1v1h-1z M760.0,908.7h0.9v1.2h-0.9z M758.3,915.7h1v0.9h-1z M760.8,852.4h0.9v0.9h-0.9z M760.9,895.1h0.9v1.2h-0.9z M765.5,894.0h1v0.9h-1z M757.2,910.5h1.2v0.9h-1.2z M759.4,924.6h0.9v1.2h-0.9z M759.5,830.1h1v1h-1z M763.1,831.4h1.2v0.9h-1.2z M763.0,831.1h1.2v0.9h-1.2z M763.3,877.1h1.2v1.2h-1.2z M757.9,856.7h0.9v0.9h-0.9z M763.1,859.1h1v1.2h-1z M766.2,884.5h1v1h-1z M759.3,839.6h1.2v0.9h-1.2z M757.1,908.3h0.9v1.2h-0.9z M762.6,847.7h1.2v1.2h-1.2z M761.2,937.1h1v1h-1z M764.9,897.5h1v0.9h-1z M756.4,907.4h1.2v1.2h-1.2z M756.9,888.4h0.9v0.9h-0.9z M762.4,905.5h1.2v1h-1.2z M762.7,936.1h0.9v1.2h-0.9z M764.5,854.2h1v1.2h-1z M756.7,928.9h0.9v0.9h-0.9z M758.2,904.5h1.2v0.9h-1.2z M756.5,845.2h1v1.2h-1z M757.7,908.4h0.9v1.2h-0.9z M763.1,900.9h1.2v1h-1.2z M758.8,833.5h0.9v1.2h-0.9z M759.6,860.3h1.2v1h-1.2z M760.7,867.7h0.9v1.2h-0.9z M765.4,910.3h1v1.2h-1z M761.9,917.8h0.9v1h-0.9z M765.1,898.7h1v1.2h-1z M757.6,886.7h1v0.9h-1z M765.1,908.4h1v1h-1z M764.4,874.7h1v0.9h-1z M766.4,832.9h0.9v1.2h-0.9z M765.2,924.7h1.2v0.9h-1.2z M756.2,911.7h1v1.2h-1z M766.6,924.5h1v1h-1z M762.0,906.7h1v1h-1z M756.2,939.0h1.2v1.2h-1.2z M758.2,856.8h0.9v0.9h-0.9z M756.8,833.0h1.2v1h-1.2z M766.6,831.7h1.2v1.2h-1.2z M761.2,836.5h1v0.9h-1z M760.4,857.6h1.2v1.2h-1.2z M756.8,915.2h0.9v1.2h-0.9z M761.6,847.6h1v1.2h-1z M760.0,860.0h1v1.2h-1z M765.8,897.8h1v1.2h-1z M764.8,925.1h0.9v1h-0.9z M757.8,893.8h1.2v1h-1.2z M764.5,902.7h0.9v0.9h-0.9z M757.4,851.6h0.9v1.2h-0.9z M757.4,846.0h1.2v1h-1.2z M763.6,881.1h1.2v1h-1.2z M763.6,920.7h1.2v1.2h-1.2z M761.5,836.2h1v1h-1z M758.1,935.5h1.2v0.9h-1.2z M757.4,867.2h1v0.9h-1z M762.9,937.2h1v1h-1z M763.7,875.4h1.2v1.2h-1.2z M764.4,894.1h1.2v1h-1.2z M764.3,872.9h1v1.2h-1z M762.8,908.6h1.2v1h-1.2z M760.0,883.8h1.2v1h-1.2z M760.2,865.3h0.9v1h-0.9z M756.7,847.1h0.9v0.9h-0.9z M760.1,936.6h1v0.9h-1z M763.6,932.4h1.2v1.2h-1.2z M766.5,918.5h0.9v1.2h-0.9z M756.0,935.7h1v1h-1z M763.2,934.9h0.9v1.2h-0.9z M762.8,884.3h0.9v1.2h-0.9z M764.8,877.1h0.9v0.9h-0.9z M756.2,854.5h1v1.2h-1z M765.5,925.1h1v0.9h-1z M760.7,882.6h1.2v0.9h-1.2z M758.4,870.9h1v1.2h-1z M756.2,892.9h0.9v0.9h-0.9z M762.2,836.5h0.9v1h-0.9z M761.0,913.6h0.9v0.9h-0.9z M760.8,887.0h1.2v1.2h-1.2z M766.7,923.3h0.9v1.2h-0.9z M761.3,921.0h1v1h-1z M764.8,836.0h1.2v1h-1.2z M765.1,865.6h1v0.9h-1z M760.7,896.8h0.9v1h-0.9z M766.5,830.9h1.2v1.2h-1.2z M758.0,889.4h0.9v1.2h-0.9z M757.0,885.5h1v1h-1z M762.7,849.3h0.9v1.2h-0.9z M763.9,832.9h1v0.9h-1z M759.2,938.4h0.9v1.2h-0.9z M757.6,919.2h0.9v1h-0.9z M758.5,859.3h1v1h-1z M760.3,935.4h1v0.9h-1z M763.2,897.4h1v1h-1z M760.7,881.4h0.9v1.2h-0.9z M764.1,886.5h0.9v0.9h-0.9z M760.8,880.2h1.2v1h-1.2z M766.9,932.4h1.2v0.9h-1.2z M761.7,885.5h1v1h-1z M760.4,912.3h1.2v1.2h-1.2z M758.7,926.7h1v1h-1z M762.3,869.6h1.2v1.2h-1.2z M761.5,849.0h0.9v0.9h-0.9z M758.9,923.5h0.9v1h-0.9z M765.1,897.3h0.9v1h-0.9z M757.4,875.8h0.9v0.9h-0.9z M761.5,867.9h1.2v0.9h-1.2z M761.5,921.9h1.2v0.9h-1.2z M761.1,914.8h0.9v0.9h-0.9z M757.9,920.8h1.2v1.2h-1.2z M759.7,838.7h1.2v1h-1.2z M758.3,874.4h0.9v1h-0.9z M761.5,914.0h1.2v1h-1.2z M762.4,866.6h1v1.2h-1z M764.4,835.7h1.2v1h-1.2z M764.4,922.7h1v1h-1z M757.8,838.6h1.2v1.2h-1.2z M764.0,839.5h1.2v1h-1.2z M759.8,870.2h0.9v1h-0.9z M762.6,869.5h1.2v1h-1.2z M757.3,887.0h1v0.9h-1z M763.0,836.9h1.2v1.2h-1.2z M762.5,840.2h1.2v0.9h-1.2z M759.0,870.6h1v1h-1z M761.8,835.7h0.9v0.9h-0.9z M763.0,878.5h0.9v1h-0.9z M756.5,905.2h1.2v0.9h-1.2z M759.3,880.1h0.9v0.9h-0.9z M758.2,930.9h1.2v0.9h-1.2z M761.9,870.6h1v0.9h-1z M762.6,867.9h0.9v1h-0.9z M758.8,847.6h0.9v0.9h-0.9z M764.2,863.4h0.9v0.9h-0.9z M761.3,916.6h1v1h-1z M761.0,931.3h1v0.9h-1z M759.5,864.1h0.9v1h-0.9z M760.4,876.7h1v1.2h-1z M759.8,845.1h1.2v1.2h-1.2z M756.1,878.5h1.2v1.2h-1.2z M756.1,854.2h1v0.9h-1z M760.7,913.1h1v0.9h-1z M765.2,927.8h0.9v1.2h-0.9z M763.2,878.7h1.2v1h-1.2z M756.6,901.6h1.2v1h-1.2z M765.8,869.8h1v1h-1z M758.0,927.0h1.2v0.9h-1.2z M757.9,847.1h1v0.9h-1z M762.6,875.1h1v1h-1z M756.6,917.1h0.9v0.9h-0.9z M762.3,926.9h1v1h-1z M762.3,845.9h1v0.9h-1z M757.3,896.9h0.9v1h-0.9z M761.2,897.1h0.9v1.2h-0.9z M760.1,925.4h1.2v1.2h-1.2z M763.9,848.5h0.9v0.9h-0.9z M766.8,927.8h0.9v1h-0.9z M762.1,888.9h0.9v1.2h-0.9z M760.9,930.6h1v0.9h-1z M765.4,917.9h0.9v1h-0.9z M760.7,905.1h0.9v1h-0.9z M765.3,877.5h1.2v0.9h-1.2z M765.1,832.0h1.2v1h-1.2z M766.4,832.9h0.9v1.2h-0.9z M766.2,885.1h1v1h-1z M760.8,867.8h1v0.9h-1z M763.6,894.4h1.2v1h-1.2z M761.3,847.1h0.9v1h-0.9z M758.4,880.0h0.9v0.9h-0.9z M763.7,910.5h1.2v1.2h-1.2z M765.2,880.6h1.2v1.2h-1.2z M758.5,849.2h1v1.2h-1z M759.1,929.9h1.2v1.2h-1.2z M760.5,901.4h1v0.9h-1z M765.0,866.5h1.2v0.9h-1.2z M766.9,910.8h0.9v0.9h-0.9z M761.3,838.8h1v1.2h-1z M764.8,849.6h1.2v1h-1.2z M764.4,935.0h1v0.9h-1z M756.6,876.4h1.2v1.2h-1.2z M764.4,924.2h0.9v0.9h-0.9z M760.8,910.3h1v1.2h-1z M764.9,938.1h1v0.9h-1z M762.7,835.1h1.2v1h-1.2z M764.5,865.8h1v0.9h-1z M765.3,884.4h1v1.2h-1z M759.0,843.7h1v1h-1z M761.9,848.0h1.2v0.9h-1.2z M758.5,890.3h1.2v0.9h-1.2z M838.9,857.9h1v1.2h-1z M830.1,933.8h1v1.2h-1z M833.0,920.5h1.2v1h-1.2z M834.8,875.6h1.2v1h-1.2z M828.0,850.0h0.9v1.2h-0.9z M836.3,866.8h1v1h-1z M831.7,863.2h1v1h-1z M833.2,879.0h1.2v1.2h-1.2z M838.0,937.0h1.2v1.2h-1.2z M834.9,843.2h0.9v1.2h-0.9z M828.2,898.6h1.2v0.9h-1.2z M829.9,846.7h1.2v0.9h-1.2z M830.9,864.1h1.2v1h-1.2z M831.8,890.1h1.2v1.2h-1.2z M835.1,867.0h1v1h-1z M839.1,922.9h0.9v0.9h-0.9z M838.4,849.7h1v1h-1z M835.1,851.1h0.9v0.9h-0.9z M831.1,910.4h1.2v1.2h-1.2z M836.4,915.8h1v1h-1z M834.0,920.3h0.9v0.9h-0.9z M829.5,869.6h0.9v1h-0.9z M837.4,832.2h1.2v1.2h-1.2z M833.2,836.7h1v1.2h-1z M834.9,833.8h0.9v1h-0.9z M836.8,859.3h0.9v1h-0.9z M829.2,861.8h0.9v0.9h-0.9z M838.0,913.7h1v1.2h-1z M836.4,864.6h1.2v0.9h-1.2z M829.8,890.4h0.9v1h-0.9z M831.9,898.4h0.9v0.9h-0.9z M831.0,873.1h0.9v1.2h-0.9z M837.9,879.3h1.2v1h-1.2z M833.7,907.4h1v1.2h-1z M833.1,844.1h0.9v1.2h-0.9z M828.5,840.3h1.2v1h-1.2z M838.7,870.7h0.9v1.2h-0.9z M839.1,905.0h1.2v1.2h-1.2z M828.8,873.9h1v0.9h-1z M832.4,866.8h0.9v1h-0.9z M838.8,887.2h0.9v0.9h-0.9z M833.8,836.4h1v0.9h-1z M833.5,890.9h1.2v1.2h-1.2z M831.9,909.7h0.9v1h-0.9z M828.5,833.3h0.9v1.2h-0.9z M831.6,929.8h1.2v1.2h-1.2z M837.2,936.6h1.2v1.2h-1.2z M835.8,919.5h1.2v0.9h-1.2z M832.9,905.4h0.9v1h-0.9z M837.0,837.9h1v1.2h-1z M828.4,831.2h1.2v1h-1.2z M834.3,915.1h1.2v0.9h-1.2z M828.8,935.6h1.2v0.9h-1.2z M837.0,939.0h1v1h-1z M834.6,880.9h0.9v1h-0.9z M837.2,880.4h1.2v0.9h-1.2z M828.3,938.1h0.9v1h-0.9z M834.3,850.0h1v0.9h-1z M837.0,887.5h0.9v1h-0.9z M829.3,864.3h1.2v1.2h-1.2z M831.8,888.2h1.2v1h-1.2z M837.8,866.3h0.9v1h-0.9z M831.2,911.8h1v0.9h-1z M833.2,902.3h1v0.9h-1z M838.2,875.1h1v1.2h-1z M838.0,836.9h1v1.2h-1z M833.3,863.3h1v1h-1z M830.1,934.5h0.9v1h-0.9z M835.0,909.7h1.2v0.9h-1.2z M829.0,831.5h1.2v1.2h-1.2z M832.3,842.4h0.9v0.9h-0.9z M829.4,854.6h1v0.9h-1z M834.7,933.6h0.9v1h-0.9z M836.3,871.7h0.9v0.9h-0.9z M828.1,931.4h1v0.9h-1z M829.1,861.7h1.2v1.2h-1.2z M831.7,890.3h0.9v1.2h-0.9z M836.1,845.7h1.2v1h-1.2z M829.4,838.9h1.2v0.9h-1.2z M829.6,903.4h1v0.9h-1z M835.7,865.4h1.2v0.9h-1.2z M829.1,924.9h1v0.9h-1z M835.5,841.2h1.2v1.2h-1.2z M830.7,935.8h0.9v1.2h-0.9z M828.3,928.1h1.2v1.2h-1.2z M835.1,840.6h1v1.2h-1z M835.0,836.6h1.2v1.2h-1.2z M831.7,895.8h0.9v1h-0.9z M829.6,899.1h1v0.9h-1z M833.7,852.7h1.2v1h-1.2z M836.5,847.0h1.2v0.9h-1.2z M830.6,831.5h0.9v1.2h-0.9z M834.3,852.8h0.9v1.2h-0.9z M832.8,879.7h1v0.9h-1z M830.2,914.3h1v1h-1z M837.3,862.9h1.2v0.9h-1.2z M837.6,922.1h1v0.9h-1z M828.9,921.7h0.9v1h-0.9z M836.7,833.2h1v0.9h-1z M833.7,918.9h1.2v1.2h-1.2z M833.0,923.8h0.9v1.2h-0.9z M835.5,865.0h1v1.2h-1z M830.7,837.6h1.2v0.9h-1.2z M833.1,857.1h1.2v1.2h-1.2z M838.2,937.2h1v1.2h-1z M838.5,904.3h1v0.9h-1z M837.0,925.3h0.9v1.2h-0.9z M838.0,898.1h0.9v1.2h-0.9z M832.6,898.6h0.9v1.2h-0.9z M829.3,839.5h0.9v1.2h-0.9z M834.2,911.2h1v1.2h-1z M832.6,874.1h1v0.9h-1z M829.2,839.8h0.9v1.2h-0.9z M833.0,912.6h1.2v0.9h-1.2z M838.5,863.4h1v0.9h-1z M833.6,869.8h0.9v1h-0.9z M837.4,895.3h0.9v1.2h-0.9z M839.4,936.7h0.9v1.2h-0.9z M832.0,858.2h0.9v0.9h-0.9z M835.5,914.2h0.9v0.9h-0.9z M834.8,836.1h1.2v0.9h-1.2z M834.5,847.0h1.2v0.9h-1.2z M829.6,868.0h0.9v1h-0.9z M835.9,896.8h1.2v0.9h-1.2z M828.7,837.6h1v1.2h-1z M836.5,928.6h0.9v1.2h-0.9z M832.7,913.3h0.9v1h-0.9z M833.4,866.3h1v0.9h-1z M833.7,916.8h1v1.2h-1z M832.6,903.3h1v0.9h-1z M836.1,843.4h0.9v1h-0.9z M837.5,855.5h1v0.9h-1z M828.4,845.6h0.9v0.9h-0.9z M828.7,883.1h1v1.2h-1z M834.5,897.3h0.9v1.2h-0.9z M830.3,858.7h0.9v1h-0.9z M830.6,894.8h1v0.9h-1z M839.0,920.5h1v1.2h-1z M831.6,885.9h1v1.2h-1z M832.1,902.1h0.9v0.9h-0.9z M838.9,927.3h1.2v0.9h-1.2z M836.3,939.6h1v1h-1z M832.8,901.8h1v1h-1z M839.0,843.6h1v1.2h-1z M837.5,918.8h1v1h-1z M836.1,850.7h1.2v1h-1.2z M837.1,833.5h1.2v1.2h-1.2z M834.3,908.7h1v1h-1z M831.7,843.8h0.9v0.9h-0.9z M837.4,893.3h1.2v0.9h-1.2z M833.9,918.1h0.9v0.9h-0.9z M830.5,847.5h1.2v1h-1.2z M830.5,939.7h0.9v1h-0.9z M832.6,939.7h0.9v1h-0.9z M831.9,934.1h1.2v1h-1.2z M830.4,914.0h1.2v0.9h-1.2z M834.2,853.5h1v1h-1z M834.2,932.0h1.2v0.9h-1.2z M833.2,883.9h1.2v1.2h-1.2z M833.4,918.0h1v1.2h-1z M837.9,861.1h0.9v0.9h-0.9z M833.2,913.9h1v1.2h-1z M833.2,888.0h1.2v0.9h-1.2z M837.7,856.7h1.2v0.9h-1.2z M838.4,926.8h1.2v1h-1.2z M830.9,911.0h1v1.2h-1z M832.0,914.9h0.9v0.9h-0.9z M835.1,865.6h1v0.9h-1z M835.0,867.7h1v1h-1z M828.8,917.0h1.2v1.2h-1.2z M833.7,894.8h1.2v1h-1.2z M833.4,892.6h0.9v0.9h-0.9z M829.8,936.0h0.9v1.2h-0.9z M828.5,862.6h1v1h-1z M832.9,857.7h1v1h-1z M830.3,924.3h1v1h-1z M833.3,833.2h0.9v1.2h-0.9z M828.9,845.0h0.9v0.9h-0.9z M833.8,833.0h0.9v1h-0.9z M832.7,911.5h0.9v1.2h-0.9z M837.7,887.7h1v1.2h-1z M834.5,905.9h1v0.9h-1z M835.5,886.7h1.2v1h-1.2z M837.1,928.6h0.9v1h-0.9z M832.1,900.0h0.9v1h-0.9z M838.5,927.6h1v0.9h-1z M832.8,938.5h1.2v1h-1.2z M838.2,930.9h1.2v0.9h-1.2z M829.5,891.6h0.9v1h-0.9z M828.1,930.3h1v1h-1z M834.4,843.2h1.2v0.9h-1.2z M829.2,936.6h1v1h-1z M835.3,936.1h1.2v1.2h-1.2z M835.1,871.8h1.2v1.2h-1.2z M836.7,865.5h0.9v1.2h-0.9z M830.7,856.7h1.2v1h-1.2z M829.9,885.2h0.9v1.2h-0.9z M828.8,929.9h1.2v1h-1.2z M837.9,875.1h1v1h-1z M833.0,886.5h0.9v1.2h-0.9z M829.2,934.0h1v0.9h-1z M828.9,854.9h0.9v0.9h-0.9z M836.3,893.0h0.9v0.9h-0.9z M835.2,853.4h0.9v1h-0.9z M838.1,914.3h0.9v1.2h-0.9z M833.0,831.3h0.9v1.2h-0.9z M830.9,872.9h1v0.9h-1z M837.6,882.9h1v1.2h-1z M838.3,922.8h0.9v1.2h-0.9z M833.3,843.3h0.9v0.9h-0.9z M830.2,935.8h0.9v0.9h-0.9z M830.8,931.6h0.9v0.9h-0.9z M836.6,878.6h1.2v1h-1.2z M833.9,852.8h0.9v1.2h-0.9z M833.8,880.6h0.9v0.9h-0.9z M837.7,872.4h1.2v0.9h-1.2z M839.1,895.5h1.2v1h-1.2z M828.5,839.8h1.2v1.2h-1.2z M831.5,936.2h0.9v1h-0.9z M828.1,888.0h0.9v0.9h-0.9z M829.0,893.6h1.2v1h-1.2z M835.4,912.4h1v1h-1z M833.5,838.8h0.9v1h-0.9z M831.7,903.1h1.2v1h-1.2z M837.1,937.4h1v0.9h-1z M833.9,938.7h0.9v1.2h-0.9z M833.1,904.4h0.9v1.2h-0.9z M831.1,900.8h1.2v1h-1.2z M836.7,876.4h0.9v1h-0.9z M836.6,889.6h1.2v1.2h-1.2z M834.6,928.6h1.2v1.2h-1.2z M830.3,867.7h1.2v1.2h-1.2z M837.9,877.9h0.9v0.9h-0.9z M832.3,848.4h1v1h-1z M835.1,831.6h1v1h-1z M831.8,865.8h1.2v1h-1.2z M832.9,835.4h0.9v1.2h-0.9z M828.5,854.2h1.2v1h-1.2z M834.7,847.9h1.2v1.2h-1.2z M829.6,894.1h1v1.2h-1z M829.1,911.6h1.2v1h-1.2z M835.8,919.8h0.9v1h-0.9z M835.9,891.2h1.2v1.2h-1.2z M828.3,850.4h0.9v0.9h-0.9z M830.5,886.6h0.9v1.2h-0.9z M834.1,871.8h0.9v0.9h-0.9z M829.9,902.1h1v1h-1z M835.5,903.2h0.9v1h-0.9z M835.0,845.3h1v0.9h-1z M829.3,885.2h1v1.2h-1z M830.4,938.2h1.2v1h-1.2z M832.5,886.8h0.9v1.2h-0.9z M837.2,885.1h0.9v1h-0.9z M829.7,917.3h0.9v0.9h-0.9z M833.0,888.1h1.2v0.9h-1.2z M834.5,910.9h0.9v1h-0.9z M832.0,894.2h1.2v1h-1.2z M828.6,849.5h1.2v0.9h-1.2z M831.7,846.6h1v1h-1z M828.9,843.2h1.2v0.9h-1.2z M833.0,933.2h1.2v1h-1.2z M828.9,913.4h1.2v0.9h-1.2z M835.2,931.4h1v1h-1z M831.3,832.5h0.9v1h-0.9z M829.5,860.4h0.9v1h-0.9z M833.3,908.2h1v0.9h-1z M834.0,855.3h1.2v1h-1.2z M828.9,891.1h1v1.2h-1z M828.7,869.6h1v1h-1z M838.5,906.2h1v1.2h-1z M836.2,937.2h0.9v0.9h-0.9z M839.2,842.0h0.9v0.9h-0.9z M828.6,925.0h1v1.2h-1z M838.0,898.1h0.9v1.2h-0.9z M839.1,848.6h1.2v0.9h-1.2z M834.3,839.6h0.9v1.2h-0.9z M830.7,852.7h1.2v0.9h-1.2z M830.6,939.8h1.2v1.2h-1.2z M831.9,833.7h1.2v1.2h-1.2z M835.9,885.4h1v1h-1z M837.3,919.0h1v0.9h-1z M836.7,863.3h1.2v1.2h-1.2z M835.2,837.2h1.2v0.9h-1.2z M837.3,938.0h1v1h-1z M837.3,884.9h1v0.9h-1z M835.2,837.1h1v0.9h-1z M838.7,932.4h1v0.9h-1z M828.2,923.5h1.2v1h-1.2z M837.8,920.5h0.9v1h-0.9z M835.7,920.4h1.2v1h-1.2z M833.0,839.5h1.2v0.9h-1.2z M835.8,882.9h0.9v1.2h-0.9z M839.2,885.8h1.2v1.2h-1.2z M828.1,897.5h0.9v1h-0.9z M829.6,887.5h1v1.2h-1z M829.8,908.5h1v1h-1z M828.2,925.0h1v0.9h-1z M837.7,885.2h1v0.9h-1z M829.9,846.7h1.2v1h-1.2z M836.2,841.5h1v1.2h-1z M833.4,923.9h1.2v1h-1.2z M832.1,881.1h0.9v1h-0.9z M831.5,878.8h0.9v1h-0.9z M829.9,899.7h1.2v1.2h-1.2z M828.5,912.8h1v1.2h-1z M832.5,911.9h0.9v1.2h-0.9z M834.1,876.4h1v1h-1z M829.2,857.8h0.9v1h-0.9z M832.7,927.7h1v1.2h-1z M829.3,867.0h1v0.9h-1z M832.2,924.2h1v1h-1z M837.4,879.8h0.9v1h-0.9z M835.7,831.4h1v1h-1z M837.7,922.8h1.2v1h-1.2z M833.2,931.4h1v1.2h-1z M832.8,840.9h1v0.9h-1z M839.4,938.0h1v0.9h-1z M833.3,857.5h1v1.2h-1z M831.2,939.2h1.2v0.9h-1.2z M829.6,838.5h0.9v1.2h-0.9z M831.2,914.5h0.9v0.9h-0.9z M836.1,907.5h1v0.9h-1z M834.8,866.2h1.2v1.2h-1.2z M835.8,934.2h1v0.9h-1z M835.5,862.9h1.2v0.9h-1.2z M830.2,899.3h1.2v0.9h-1.2z M836.2,935.7h0.9v1h-0.9z M837.5,921.2h1.2v1h-1.2z M837.3,923.0h0.9v1h-0.9z M836.6,924.0h1.2v1.2h-1.2z M830.0,855.8h1.2v1h-1.2z M832.5,876.1h1.2v1.2h-1.2z M838.6,913.6h0.9v1h-0.9z M836.7,884.1h1v1.2h-1z M839.4,857.6h0.9v1h-0.9z M836.7,859.3h1.2v1.2h-1.2z M838.3,897.7h1v1h-1z M831.1,887.3h1v0.9h-1z M839.5,872.1h1.2v1.2h-1.2z M831.8,835.1h0.9v1h-0.9z M838.9,876.3h1.2v1.2h-1.2z M832.3,851.0h1v1h-1z M835.3,889.3h1v1h-1z M834.3,843.6h1.2v0.9h-1.2z M837.7,899.0h1v1.2h-1z M831.7,914.1h0.9v0.9h-0.9z M836.6,843.1h1v0.9h-1z M832.3,890.4h0.9v0.9h-0.9z M836.5,901.9h1.2v1h-1.2z M835.6,861.5h1.2v1.2h-1.2z M834.3,887.0h1.2v1h-1.2z M835.7,879.8h1v1.2h-1z M838.7,915.3h0.9v1.2h-0.9z M831.2,884.5h1v0.9h-1z M835.6,866.8h0.9v0.9h-0.9z M830.5,876.0h1v1.2h-1z M837.9,873.2h0.9v0.9h-0.9z M836.3,842.4h1v1h-1z M838.8,930.3h1v0.9h-1z M828.3,928.5h1.2v0.9h-1.2z M834.5,896.7h1v1h-1z M836.2,855.4h1.2v0.9h-1.2z M830.9,911.8h1v1.2h-1z M832.2,841.9h1v0.9h-1z M836.7,857.1h0.9v1h-0.9z M836.0,916.4h0.9v1.2h-0.9z M836.7,926.3h0.9v1h-0.9z M829.9,871.1h0.9v1.2h-0.9z M828.5,832.1h1v1.2h-1z M831.3,842.2h0.9v0.9h-0.9z M828.4,842.5h1.2v1.2h-1.2z M835.4,868.5h1v0.9h-1z M836.4,932.1h0.9v0.9h-0.9z M837.8,904.4h1.2v1.2h-1.2z M837.8,841.3h1v1h-1z M839.2,893.9h0.9v1.2h-0.9z M836.7,854.3h0.9v0.9h-0.9z M834.4,833.9h0.9v0.9h-0.9z M839.0,862.0h1.2v1h-1.2z M838.9,851.0h1.2v1.2h-1.2z M834.4,907.9h1.2v1h-1.2z M836.3,857.8h0.9v1.2h-0.9z M833.0,932.3h0.9v1h-0.9z M829.7,888.0h1.2v0.9h-1.2z M838.8,870.2h1.2v1h-1.2z M828.1,918.5h1.2v1.2h-1.2z M833.1,884.5h1v1.2h-1z M836.8,832.9h0.9v1.2h-0.9z M835.2,928.9h1v1h-1z M833.6,934.1h0.9v0.9h-0.9z M831.9,927.7h1.2v1h-1.2z M835.4,923.6h1.2v0.9h-1.2z M835.4,909.0h1.2v0.9h-1.2z M829.1,852.9h1v1.2h-1z M828.8,940.0h0.9v1.2h-0.9z M833.5,916.4h1.2v0.9h-1.2z M834.2,931.0h0.9v1.2h-0.9z M833.0,889.4h1.2v0.9h-1.2z M836.5,896.6h1.2v0.9h-1.2z M829.3,932.6h0.9v1.2h-0.9z M830.6,907.7h1.2v0.9h-1.2z M832.1,860.5h1v1h-1z M830.3,915.1h1v1h-1z M828.6,925.6h1.2v1.2h-1.2z M835.2,876.7h0.9v1.2h-0.9z M837.2,858.1h1v1.2h-1z M829.5,853.3h0.9v1.2h-0.9z M834.8,836.1h0.9v1h-0.9z M832.9,843.8h1.2v0.9h-1.2z M838.9,901.1h1v0.9h-1z M835.2,879.6h0.9v1.2h-0.9z M838.5,866.2h1v1h-1z M835.5,843.8h1v0.9h-1z M833.3,868.7h1v1h-1z M828.5,923.1h1v1.2h-1z M835.3,925.6h1v1.2h-1z M836.9,899.2h1v0.9h-1z M833.6,932.4h1v1h-1z M832.5,880.2h1v1h-1z M829.2,869.7h1.2v1h-1.2z M832.7,929.0h1v0.9h-1z M831.0,939.1h0.9v1h-0.9z M837.6,841.2h1.2v1h-1.2z M833.8,867.5h0.9v0.9h-0.9z M838.8,900.5h0.9v0.9h-0.9z M835.2,920.7h1.2v0.9h-1.2z M834.5,918.4h0.9v1.2h-0.9z M833.6,873.1h1.2v1.2h-1.2z M837.0,904.0h0.9v1.2h-0.9z M838.4,869.6h0.9v0.9h-0.9z M839.2,831.4h0.9v1.2h-0.9z M836.6,866.7h0.9v1.2h-0.9z M833.9,880.3h1.2v0.9h-1.2z M833.7,860.0h1v1.2h-1z M830.7,892.5h1v1.2h-1z M836.7,892.0h1v0.9h-1z M837.8,912.1h1v1h-1z M839.0,855.8h1.2v1.2h-1.2z M836.2,932.5h0.9v1h-0.9z M838.5,840.2h1.2v0.9h-1.2z M828.9,870.5h1.2v1.2h-1.2z M836.4,884.2h1.2v1h-1.2z M836.5,908.8h1v1.2h-1z M830.9,903.8h1.2v1h-1.2z M833.2,922.1h1v1h-1z M834.9,938.8h0.9v1h-0.9z M828.0,880.7h0.9v0.9h-0.9z M835.4,903.2h0.9v0.9h-0.9z M837.8,904.4h1v1.2h-1z M828.7,841.7h0.9v1h-0.9z M834.3,905.4h1v1h-1z M833.4,883.4h1v1.2h-1z M833.9,923.6h1v1.2h-1z M837.1,895.3h1v0.9h-1z M834.5,834.2h1v0.9h-1z M837.5,838.4h0.9v1.2h-0.9z M837.0,897.7h0.9v1h-0.9z M836.4,884.4h1v1.2h-1z M833.5,905.3h1.2v0.9h-1.2z M829.5,864.9h1v1.2h-1z M836.8,890.5h1.2v0.9h-1.2z M829.7,887.7h1.2v1.2h-1.2z M834.8,925.0h0.9v1h-0.9z M837.8,918.3h1.2v0.9h-1.2z M836.6,857.3h1v1.2h-1z M835.2,926.2h0.9v0.9h-0.9z M832.4,859.7h1.2v0.9h-1.2z M828.1,844.9h1.2v0.9h-1.2z M836.9,898.9h1v1.2h-1z M829.7,852.5h1.2v1h-1.2z M835.5,861.0h1.2v1.2h-1.2z M832.7,919.9h1.2v1h-1.2z M838.1,910.0h1v0.9h-1z M828.9,866.4h0.9v0.9h-0.9z M837.1,867.0h0.9v1.2h-0.9z M831.6,932.7h1v1.2h-1z M838.2,937.7h1.2v0.9h-1.2z M835.9,845.9h0.9v1.2h-0.9z M834.6,880.8h1.2v0.9h-1.2z M831.3,899.0h0.9v0.9h-0.9z M831.5,894.1h1.2v1h-1.2z M829.2,906.4h1v1.2h-1z M828.1,854.2h1v0.9h-1z M829.2,866.5h1.2v1h-1.2z M834.7,913.8h0.9v1.2h-0.9z M829.5,864.6h1.2v0.9h-1.2z M836.1,920.7h1v1h-1z M837.2,833.6h0.9v1.2h-0.9z M835.2,868.6h0.9v0.9h-0.9z M838.4,879.6h1v1.2h-1z M838.0,839.8h1.2v1h-1.2z M835.8,878.8h0.9v1.2h-0.9z M837.1,860.5h1v0.9h-1z M837.6,880.4h0.9v1h-0.9z M839.2,839.0h1v1h-1z M837.1,915.2h1.2v1.2h-1.2z M829.7,889.4h0.9v1h-0.9z M828.7,934.1h0.9v1h-0.9z M829.3,926.7h0.9v1h-0.9z M835.2,904.8h1.2v0.9h-1.2z M835.0,905.0h1.2v0.9h-1.2z M836.8,929.1h1v1h-1z M837.5,862.0h1v1h-1z M832.0,843.5h1v0.9h-1z M833.1,888.1h1v1h-1z M828.6,863.9h1v1.2h-1z M836.7,847.6h0.9v0.9h-0.9z M835.8,909.9h0.9v1h-0.9z M839.2,866.3h1v0.9h-1z M835.8,838.7h1v1h-1z M831.8,886.5h1.2v1h-1.2z M838.6,919.6h1.2v0.9h-1.2z M837.8,909.9h1.2v0.9h-1.2z M837.0,902.0h0.9v1.2h-0.9z M829.2,886.0h1v1.2h-1z M839.3,919.4h0.9v1h-0.9z M837.0,883.7h0.9v0.9h-0.9z M832.8,908.2h1v0.9h-1z M838.2,910.7h1v1.2h-1z M833.0,934.7h1.2v0.9h-1.2z M835.1,894.3h1v1h-1z M831.3,882.7h1v1.2h-1z M835.7,868.2h0.9v0.9h-0.9z M838.2,855.5h0.9v1.2h-0.9z M828.1,867.2h1.2v1.2h-1.2z M831.7,875.7h0.9v1.2h-0.9z" fill="#000"/>

<path class="k" d="M756,829 L756,941 M839.5,831 L839.5,941" style="stroke-width:2"/>
<path d="M756,829.5 Q797,826 839.5,832" fill="none" stroke="#000" stroke-width="2.2"/>
<path class="kf" d="M749,835 L756,832.5 L756,839 L749.5,839 Z" style="stroke-width:1.8"/>
<path class="kf" d="M839.5,832.5 L845,835 L845,838.5 L839.5,839 Z" style="stroke-width:1.8"/>
<path d="M755,941 L755,946 L841,946 L841,941 Z" fill="#fff" stroke="none"/>
<ellipse cx="797.8" cy="948.2" rx="43.2" ry="8.8" fill="#fff" stroke="#000" stroke-width="2"/>
<ellipse cx="797.8" cy="948.8" rx="36" ry="6" fill="none" stroke="#000" stroke-width="1.4"/>
<path d="M770,947 L777,946 M781,949 L790,948 L792,951 M797,947 L806,947 L808,950 M812,948 L819,947" fill="none" stroke="#000" stroke-width="1.6"/>
<path d="M756,941 Q797,936.5 840.5,941" fill="none" stroke="#000" stroke-width="1.4"/>
</g>
<!-- ===== HOUSING (box) ===== -->
<g id="hb">
<!-- right fitting (behind) -->
<path class="kf" d="M849,1016 L868,1018 L876,1013 Q884,1012 887,1020 L888,1028 L902,1030 Q906,1034 904,1040 L898,1042 L888,1040 L880,1046 L866,1046 L849,1043 Z" style="stroke-width:2"/>
<path class="k" d="M866,1020 Q870,1012 878,1014 M858,1026 L874,1027 L876,1031 L860,1031 Z M886,1030 L886,1041 M850,1036 L870,1038" style="stroke-width:1.6"/>
<!-- right down fitting -->
<path class="kf" d="M860,1050 L866,1046 L871,1052 L870,1066 L876,1070 L878,1088 Q879,1095 872,1096 Q866,1096 865.5,1090 L864,1072 Q859,1066 860,1060 Z" style="stroke-width:2"/>
<path class="k" d="M864,1072 L876,1070 M865,1077 L877,1076" style="stroke-width:1.6"/>
<path d="M866,1050 L869,1046 L870,1056 Z" fill="#000"/>
<!-- small ring right -->
<ellipse cx="851" cy="1087" rx="5" ry="6.5" fill="#fff" stroke="#000" stroke-width="2"/>
<!-- lower part -->
<path class="kf" d="M751,1083 L751,1097 L755.5,1099 L755.5,1136 Q800,1150 844.6,1136 L844.6,1099 L848,1097 L848,1083 Z" style="stroke-width:2"/>
<path class="k" d="M751,1087 Q800,1096 848,1087 M752,1091 Q800,1100 848,1091 M753,1096 Q800,1105 847,1096" style="stroke-width:1.5"/>
<path class="k" d="M756,1100 Q800,1110 844,1100" style="stroke-width:2"/>
<!-- body -->
<path class="kf" d="M749.2,1000 L749.2,1083 Q800,1093 849.8,1083 L849.8,1000 Z" style="stroke-width:2"/>
<!-- threaded top (behind flange) -->
<clipPath id="thc"><path d="M745.5,977 Q746,966.5 798,966.3 Q851,966.5 851,977 L851,992 L745.5,992 Z"/></clipPath>
<path d="M745.5,977 Q746,966.5 798,966.3 Q851,966.5 851,977 L851,992 L745.5,992 Z" fill="#000" stroke="#000" stroke-width="1.6"/>
<g clip-path="url(#thc)">
<path d="M809.9,981.4h1.2v0.8h-1.2z M830.2,982.0h0.8v0.8h-0.8z M835.8,970.0h1v0.8h-1z M787.4,969.8h0.8v0.8h-0.8z M820.0,975.3h0.8v1h-0.8z M766.8,982.3h0.8v1h-0.8z M763.8,968.0h0.8v0.8h-0.8z M823.9,985.3h0.8v0.8h-0.8z M778.9,985.3h1.2v0.8h-1.2z M768.9,985.4h0.8v1h-0.8z M779.8,974.5h0.8v0.8h-0.8z M776.5,974.0h1.2v0.8h-1.2z M807.4,980.7h0.8v1h-0.8z M785.0,973.5h1.2v1h-1.2z M769.2,976.5h0.8v0.8h-0.8z M775.8,984.9h1.2v1h-1.2z M830.6,968.3h1v1h-1z M787.0,983.1h1v0.8h-1z M817.8,979.2h0.8v0.8h-0.8z M822.3,984.7h1v1h-1z M799.7,984.1h1v1h-1z M762.0,981.5h1v1h-1z M755.4,985.0h0.8v0.8h-0.8z M783.7,979.0h0.8v1h-0.8z M777.6,980.6h0.8v1h-0.8z M815.8,973.5h0.8v0.8h-0.8z M819.1,973.6h1v0.8h-1z M819.0,969.5h1.2v1h-1.2z M755.0,981.3h1v1h-1z M794.4,975.6h0.8v0.8h-0.8z M826.6,974.0h0.8v0.8h-0.8z M843.3,978.2h0.8v1h-0.8z M761.9,975.8h0.8v0.8h-0.8z M830.6,973.3h1v0.8h-1z M842.8,976.2h1v1h-1z M796.6,973.2h1v0.8h-1z M762.5,982.8h1.2v0.8h-1.2z M810.3,977.0h1v0.8h-1z M760.3,972.9h1.2v1h-1.2z M757.9,982.3h1v0.8h-1z M822.6,974.5h1.2v1h-1.2z M829.7,972.8h1.2v1h-1.2z M841.0,974.1h0.8v0.8h-0.8z M796.1,981.9h1v1h-1z M795.1,982.7h1.2v1h-1.2z M784.4,979.6h1.2v1h-1.2z M784.6,983.2h1.2v1h-1.2z M842.8,985.2h1.2v0.8h-1.2z M801.2,971.0h1v1h-1z M778.3,969.4h1.2v1h-1.2z M768.0,982.0h1.2v1h-1.2z M780.1,978.0h1.2v1h-1.2z M819.0,968.5h0.8v1h-0.8z M810.0,971.3h1.2v0.8h-1.2z M810.7,968.8h1v0.8h-1z M767.4,984.1h0.8v1h-0.8z M842.0,976.7h1.2v0.8h-1.2z M790.6,974.3h1.2v0.8h-1.2z M806.9,972.3h1v0.8h-1z M784.6,985.1h1v0.8h-1z M816.1,977.9h0.8v1h-0.8z M760.8,977.8h1v1h-1z M841.1,982.7h1v1h-1z M827.6,979.6h1v1h-1z M765.2,978.7h1.2v1h-1.2z M841.0,985.4h1.2v0.8h-1.2z M784.7,984.1h0.8v1h-0.8z M762.0,978.2h1.2v0.8h-1.2z M782.3,983.8h1.2v1h-1.2z M791.9,985.6h1v1h-1z M796.6,980.7h1v0.8h-1z M807.4,972.7h1v1h-1z M775.3,968.4h1v1h-1z M838.4,970.6h0.8v0.8h-0.8z M813.4,985.3h0.8v1h-0.8z M755.7,970.5h1v0.8h-1z M796.7,978.1h0.8v1h-0.8z M824.7,972.4h1v0.8h-1z M819.1,973.1h1v1h-1z M800.2,983.5h1.2v0.8h-1.2z M753.5,970.3h1v1h-1z M809.1,981.2h0.8v1h-0.8z M784.5,980.3h1.2v0.8h-1.2z M755.4,972.5h1v0.8h-1z M834.6,977.8h0.8v1h-0.8z M824.4,975.7h1.2v1h-1.2z M831.9,983.1h1v1h-1z M815.5,981.0h1v1h-1z M829.2,969.2h0.8v1h-0.8z M806.1,979.7h1v1h-1z M765.3,976.6h1.2v1h-1.2z M842.5,977.7h1v0.8h-1z M758.4,972.1h0.8v0.8h-0.8z M813.7,968.5h1.2v1h-1.2z M843.0,986.0h1.2v1h-1.2z M756.5,983.2h0.8v0.8h-0.8z M818.3,970.4h1v1h-1z M765.9,979.0h1v0.8h-1z M758.3,971.8h1.2v0.8h-1.2z M813.4,981.4h1v0.8h-1z M805.1,970.1h1v0.8h-1z M752.9,969.6h1.2v1h-1.2z M797.5,984.9h1v0.8h-1z M764.9,973.3h1.2v1h-1.2z M836.7,978.0h1.2v0.8h-1.2z M776.5,977.9h1v1h-1z M800.1,970.4h0.8v1h-0.8z M794.2,975.0h0.8v0.8h-0.8z M812.9,969.5h1.2v0.8h-1.2z M760.5,970.2h1.2v1h-1.2z" fill="#fff"/>
<path d="M745.5,978.5 L752,980.0 M845.5,980.0 L852.5,978.5 M745.5,981.5 L752,983.0 M845.5,983.0 L852.5,981.5 M745.5,984.5 L752,986.0 M845.5,986.0 L852.5,984.5 M745.5,987.5 L752,989.0 M845.5,989.0 L852.5,987.5" stroke="#fff" stroke-width="1" fill="none"/>
<path d="M748,988.5 Q798,984.5 849,988.5" stroke="#fff" stroke-width="1.6" fill="none" stroke-dasharray="6 2 3 2"/>
</g>
<!-- flange -->
<ellipse cx="799" cy="999.5" rx="59.5" ry="9" fill="#fff" stroke="#000" stroke-width="1.8"/>
<path d="M742,999 Q799,990 856,999" fill="none" stroke="#000" stroke-width="1.2"/>
<path d="M748,994.5 Q799,988 850,994.5" fill="none" stroke="#000" stroke-width="1.3" stroke-dasharray="5 1.5 2 1.5"/>
<path d="M748,1003 Q799,1012 850,1003" stroke="#000" stroke-width="1.4" fill="none"/>
<!-- left bracket -->
<path class="kf" d="M731,1019 Q731,1015 736,1014 L762.5,1015 L762.5,1083.5 L738,1084 Q730,1083 730,1076 Z" style="stroke-width:2"/>
<path class="k" d="M744.5,1015 L745,1083 M760,1016 L760,1082" style="stroke-width:1.6"/>
<circle cx="753.4" cy="1022.9" r="4.6" fill="#fff" stroke="#000" stroke-width="2"/>
<circle cx="753.4" cy="1070" r="4.6" fill="#fff" stroke="#000" stroke-width="2"/>
<!-- logo -->
<path d="M833.5,1016 Q827,1012 821.5,1016 Q817,1021 819.5,1028 Q823,1034 830,1033 Q833,1032.5 834,1030" fill="none" stroke="#000" stroke-width="2.6"/>
<path d="M822,1025 L833,1017 M825,1028 L834,1022.5" stroke="#000" stroke-width="2"/>
<path d="M819.5,1050 L834,1050.5 L834,1056 L828,1056 L828,1064 L821,1064 L821,1056 L819.5,1056 Z" fill="#000"/>
<rect x="822.5" y="1057" width="4.5" height="6" fill="#fff"/>
<path d="M817.5,1071 L836,1073" stroke="#000" stroke-width="2.2" stroke-dasharray="4 1"/>
<!-- bottom left mount -->
<path class="kf" d="M754,1106 L763.6,1105.5 L764,1129.5 L756,1131 Z" style="stroke-width:2"/>
<circle cx="750" cy="1119.4" r="6.4" fill="#fff" stroke="#000" stroke-width="2.6"/>
<circle cx="750" cy="1119.4" r="3.4" fill="#000"/>
<path d="M750,1114 L750,1125 M744.6,1119.4 L755.4,1119.4 M746,1115.5 L754,1123.3 M754,1115.5 L746,1123.3" stroke="#fff" stroke-width="0.8"/>
<!-- bottom connectors (two cylinders) -->
<path class="kf" d="M776,1109 L806,1113 L810,1121 L806,1126 L776,1122 Z" style="stroke-width:1.8"/>
<path class="kf" d="M774,1124.5 L806,1129 L810,1137 L806,1141 L774,1138 Z" style="stroke-width:1.8"/>
<path class="kf" d="M806,1117 L818,1120 L821,1128 L820,1136 L810,1137 L809,1121 Z" style="stroke-width:1.8"/>
<path class="k" d="M790,1112 L791,1123 M790,1127 L791,1139" style="stroke-width:1.3"/>
<circle cx="774.7" cy="1115.3" r="4.6" fill="#fff" stroke="#000" stroke-width="2.4"/>
<circle cx="774.7" cy="1115.3" r="1.4" fill="#000"/>
<circle cx="774.7" cy="1131.4" r="4.6" fill="#fff" stroke="#000" stroke-width="2.4"/>
<circle cx="774.7" cy="1131.4" r="1.4" fill="#000"/>
<path d="M768,1113 L771,1111 M768,1118 L770.5,1120.5 M768,1129 L771,1127 M768,1134 L770.5,1136.5" stroke="#000" stroke-width="1.6"/>
<!-- drain bottom -->
<path d="M810.7,1143 L810.7,1172" stroke="#000" stroke-width="1" stroke-dasharray="3 2"/>
<path d="M794,1150 Q795,1166 801,1170 L808,1170.5" fill="none" stroke="#000" stroke-width="10" stroke-linecap="round"/>
<path d="M794,1150 Q795,1166 801,1170 L808,1170.5" fill="none" stroke="#fff" stroke-width="6.4" stroke-linecap="round"/>
<path d="M791,1161 Q796,1160 799,1163" fill="none" stroke="#000" stroke-width="1.4"/>
<path class="kf" d="M752,1151 L788,1155.5 L792,1160 L790,1166 L752,1161 Q748,1159 748.5,1155 Q749,1151 752,1151 Z" style="stroke-width:1.8"/>
<path class="k" d="M755,1151.5 L755,1161 M759,1152 L759,1161.5 M781,1154.5 L781,1165 M785,1155 L785,1165.5" style="stroke-width:1.4"/>
<path d="M780,1154.5 L786,1155.5 L786,1165.5 L780,1165 Z" fill="#000"/>
<!-- washers -->
<ellipse cx="737.7" cy="1109.8" rx="3.4" ry="4.5" fill="#fff" stroke="#000" stroke-width="1.6"/>
<circle cx="737.7" cy="1109.8" r="1.2" fill="#000"/>
<ellipse cx="737.7" cy="1126.6" rx="3.4" ry="4.5" fill="#fff" stroke="#000" stroke-width="1.6"/>
<circle cx="737.7" cy="1126.6" r="1.2" fill="#000"/>
</g>
<!-- ===== PART 14 sensor ===== -->
<g id="p14">
<path class="kf" d="M622,1090 L634,1089 L636,1109 L622,1108 Z" style="stroke-width:2"/>
<path class="k" d="M623,1095.5 L634,1095.5 M623,1101 L634.5,1101.5" style="stroke-width:1.6"/>
<path class="kf" d="M612.3,1090.5 Q612.5,1087.5 616,1087.5 L622,1088 L622.5,1107 L616,1106.5 Q612.3,1106 612.3,1102.5 Z" style="stroke-width:2.4"/>
<rect x="614.5" y="1093" width="5.5" height="10" fill="#fff" stroke="#000" stroke-width="1.2"/>
<path d="M610.5,1092.5 L613,1092" stroke="#000" stroke-width="1.6"/>
<path class="kf" d="M634.2,1089.5 L638,1087.5 L643,1091.5 L644.6,1096 L644.6,1110 L641,1115.5 L636,1114 Z" style="stroke-width:2.2"/>
<path class="k" d="M640,1090 L641.5,1113" style="stroke-width:1.3"/>
<path class="kf" d="M644.6,1096 L652,1097 Q656.8,1099 656.8,1103.5 Q656.5,1108.5 651,1109.4 L644.6,1110 Z" style="stroke-width:1.8"/>
<path d="M645,1097 L650,1097.5 L650,1109.5 L645,1110 Z" fill="#000"/>
<path d="M646.5,1099 L646.5,1108 M648.5,1099 L648.5,1108" stroke="#fff" stroke-width="0.8"/>
<path class="k1" d="M657.5,1103.5 L661.5,1103.5"/>
<ellipse cx="666.2" cy="1105.8" rx="4.4" ry="8.4" fill="#fff" stroke="#000" stroke-width="1.5"/>
<path d="M668,1100 Q664.5,1100 664.5,1105.8 Q664.5,1111.5 668,1111.5" fill="none" stroke="#000" stroke-width="1.3"/>
</g>
<!-- screws -->
<g id="scr">
<path class="kf" d="M680.0,1101.3 L688.0,1102.0 L688.0,1105.8 L680.0,1106.1999999999998 Z" style="stroke-width:1.6"/>
<ellipse cx="678.2" cy="1103.8" rx="2.6" ry="3.3" fill="#000"/>
<path d="M683.0,1101.8 L683.0,1105.8 M685.5,1101.8999999999999 L685.5,1105.8" stroke="#000" stroke-width="1.1"/>
<path class="kf" d="M695.3,1098.5 L703.3,1099.2 L703.3,1103.0 L695.3,1103.3999999999999 Z" style="stroke-width:1.6"/>
<ellipse cx="693.5" cy="1101.0" rx="2.6" ry="3.3" fill="#000"/>
<path d="M698.3,1099.0 L698.3,1103.0 M700.8,1099.1 L700.8,1103.0" stroke="#000" stroke-width="1.1"/>
<path class="kf" d="M680.3,1117.7 L688.3,1118.4 L688.3,1122.2 L680.3,1122.6 Z" style="stroke-width:1.6"/>
<ellipse cx="678.5" cy="1120.2" rx="2.6" ry="3.3" fill="#000"/>
<path d="M683.3,1118.2 L683.3,1122.2 M685.8,1118.3 L685.8,1122.2" stroke="#000" stroke-width="1.1"/>
<path class="kf" d="M696.3,1115.1000000000001 L704.3,1115.8000000000002 L704.3,1119.6000000000001 L696.3,1120.0 Z" style="stroke-width:1.6"/>
<ellipse cx="694.5" cy="1117.6000000000001" rx="2.6" ry="3.3" fill="#000"/>
<path d="M699.3,1115.6000000000001 L699.3,1119.6000000000001 M701.8,1115.7 L701.8,1119.6000000000001" stroke="#000" stroke-width="1.1"/>
</g>
<!-- ===== PART 15 ===== -->
<g id="p15">
<path class="kf" d="M705.3,1092 L716.4,1092 L718.5,1143 Q712,1146 705.8,1143 Z" style="stroke-width:1.8"/>
<path class="kf" d="M705.3,1142 L718.8,1142 L719,1150.5 Q712,1153.5 705.6,1150.5 Z" style="stroke-width:1.8"/>
<path d="M707,1145 Q712,1147 717,1145" fill="none" stroke="#000" stroke-width="1"/>
<path class="kf" d="M716.4,1096 L724,1097 Q728.8,1099 728.8,1106 L728.5,1126 L722,1129.4 L718,1127 Z" style="stroke-width:1.8"/>
<path class="k" d="M719,1104 L727,1103 M719,1110 L727,1109.5 M720,1117 L727,1116.5 M720,1123 L726,1122.5" style="stroke-width:1.3"/>
<path class="kf" d="M700.3,1080 L702.5,1073 L705.5,1077 L709,1071.5 L713,1076 L717,1071.2 L721,1076 L724.5,1072.5 L726,1078 L727.6,1088 L722,1093.5 L705,1093.5 L700.5,1089 Z" style="stroke-width:1.8"/>
<path d="M702,1080 L726,1079 M702.5,1086 L726.5,1085.5" stroke="#000" stroke-width="1.6"/>
<path d="M705,1079.5 L705,1086 M709,1079 L709,1086 M713,1079 L713,1086 M717,1079 L717,1086 M721,1079 L721,1086 M725,1079 L725,1086" stroke="#000" stroke-width="1.4"/>
<path d="M703,1074 L706,1077.5 L709,1073 L713,1077 L717,1072.5 L721,1077 L724.5,1074" fill="none" stroke="#000" stroke-width="1.5"/>
<path class="k" d="M707.5,1095 L707.5,1140" style="stroke-width:1"/>
</g>
<!-- PARTS_END -->

</svg>
</body></html>
